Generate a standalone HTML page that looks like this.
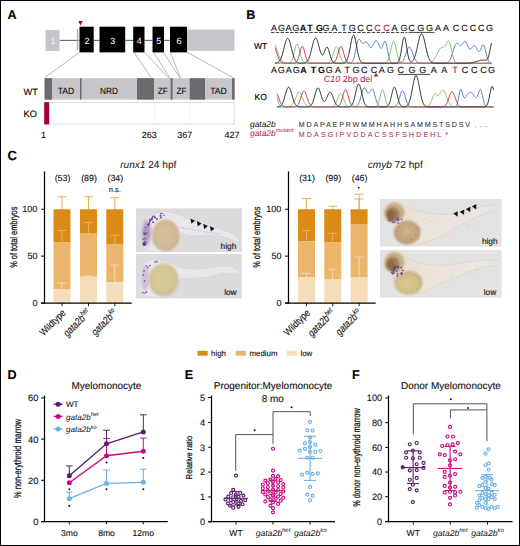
<!DOCTYPE html>
<html><head><meta charset="utf-8"><style>
html,body{margin:0;padding:0;background:#fff;width:520px;height:546px;overflow:hidden}
svg{display:block}
text{font-family:"Liberation Sans", sans-serif;text-rendering:geometricPrecision;paint-order:stroke}
</style></head><body>
<svg width="520" height="546" viewBox="0 0 520 546">
<rect x="0" y="0" width="520" height="546" fill="#fff"/>
<text x="7.6" y="19.2" font-size="12.6" text-anchor="start" font-weight="bold" font-style="normal" fill="#000"  stroke="#000" stroke-width="0.12">A</text>
<text x="246.3" y="19.2" font-size="12.6" text-anchor="start" font-weight="bold" font-style="normal" fill="#000"  stroke="#000" stroke-width="0.12">B</text>
<text x="7.5" y="160.2" font-size="13.2" text-anchor="start" font-weight="bold" font-style="normal" fill="#000"  stroke="#000" stroke-width="0.12">C</text>
<text x="7.6" y="379.3" font-size="12.6" text-anchor="start" font-weight="bold" font-style="normal" fill="#000"  stroke="#000" stroke-width="0.12">D</text>
<text x="184.8" y="379.3" font-size="12.6" text-anchor="start" font-weight="bold" font-style="normal" fill="#000"  stroke="#000" stroke-width="0.12">E</text>
<text x="352" y="379.3" font-size="12.6" text-anchor="start" font-weight="bold" font-style="normal" fill="#000"  stroke="#000" stroke-width="0.12">F</text>
<line x1="59.5" y1="40.4" x2="79.5" y2="40.4" stroke="#666" stroke-width="1.1" />
<line x1="93.7" y1="40.4" x2="99.5" y2="40.4" stroke="#666" stroke-width="1.1" />
<line x1="125.2" y1="40.4" x2="133.2" y2="40.4" stroke="#666" stroke-width="1.1" />
<line x1="144.5" y1="40.4" x2="152.5" y2="40.4" stroke="#666" stroke-width="1.1" />
<line x1="164" y1="40.4" x2="170" y2="40.4" stroke="#666" stroke-width="1.1" />
<rect x="45.5" y="30" width="14" height="21" fill="#c6c5cb" />
<text x="53" y="43.6" font-size="9" text-anchor="middle" font-weight="normal" font-style="normal" fill="#f4f4f6" stroke="none">1</text>
<rect x="76.9" y="28.8" width="1.4" height="21.4" fill="#aeadb6" />
<rect x="79.5" y="26.7" width="14.200000000000003" height="25.7" fill="#000" />
<text x="87.1" y="43.6" font-size="9" text-anchor="middle" font-weight="normal" font-style="normal" fill="#fff" stroke="none">2</text>
<rect x="99.5" y="26.7" width="25.700000000000003" height="25.7" fill="#000" />
<text x="112.85" y="43.6" font-size="9" text-anchor="middle" font-weight="normal" font-style="normal" fill="#fff" stroke="none">3</text>
<rect x="133.2" y="26.7" width="11.300000000000011" height="25.7" fill="#000" />
<text x="139.35" y="43.6" font-size="9" text-anchor="middle" font-weight="normal" font-style="normal" fill="#fff" stroke="none">4</text>
<rect x="152.5" y="26.7" width="11.5" height="25.7" fill="#000" />
<text x="158.75" y="43.6" font-size="9" text-anchor="middle" font-weight="normal" font-style="normal" fill="#fff" stroke="none">5</text>
<rect x="170" y="26.7" width="17" height="25.7" fill="#000" />
<text x="179.0" y="43.6" font-size="9" text-anchor="middle" font-weight="normal" font-style="normal" fill="#fff" stroke="none">6</text>
<rect x="187" y="29.6" width="47.5" height="21.2" fill="#c6c5cb" />
<path d="M78.3,21 L82.7,21 L80.5,25.6 Z" fill="#a8002c"/>
<line x1="79.5" y1="52.3" x2="44.6" y2="77.8" stroke="#888" stroke-width="0.6" />
<line x1="134" y1="52.3" x2="151.3" y2="77.8" stroke="#888" stroke-width="0.6" />
<line x1="144.4" y1="52.3" x2="168.7" y2="77.8" stroke="#888" stroke-width="0.6" />
<line x1="153.7" y1="52.3" x2="169.8" y2="77.8" stroke="#888" stroke-width="0.6" />
<line x1="163.5" y1="52.3" x2="179.8" y2="77.8" stroke="#888" stroke-width="0.6" />
<line x1="170.4" y1="52.3" x2="180.4" y2="77.8" stroke="#888" stroke-width="0.6" />
<line x1="187" y1="52.3" x2="233.5" y2="77.8" stroke="#888" stroke-width="0.6" />
<rect x="44.6" y="78.2" width="190" height="21.4" fill="#c6c5cb" />
<rect x="44.6" y="78.2" width="7.399999999999999" height="21.4" fill="#6b6b6d" />
<rect x="80" y="78.2" width="1.5" height="21.4" fill="#6b6b6d" />
<rect x="137" y="78.2" width="17" height="21.4" fill="#6b6b6d" />
<rect x="170.6" y="78.2" width="2.0" height="21.4" fill="#6b6b6d" />
<rect x="189.7" y="78.2" width="15.300000000000011" height="21.4" fill="#6b6b6d" />
<rect x="232" y="78.2" width="2.5999999999999943" height="21.4" fill="#6b6b6d" />
<text x="66" y="93.7" font-size="9" text-anchor="middle" font-weight="normal" font-style="normal" fill="#111" textLength="16.6" lengthAdjust="spacingAndGlyphs" stroke="#111" stroke-width="0.12">TAD</text>
<text x="109" y="93.7" font-size="9" text-anchor="middle" font-weight="normal" font-style="normal" fill="#111" textLength="17.9" lengthAdjust="spacingAndGlyphs" stroke="#111" stroke-width="0.12">NRD</text>
<text x="162.8" y="93.7" font-size="9" text-anchor="middle" font-weight="normal" font-style="normal" fill="#111" textLength="10.1" lengthAdjust="spacingAndGlyphs" stroke="#111" stroke-width="0.12">ZF</text>
<text x="181.6" y="93.7" font-size="9" text-anchor="middle" font-weight="normal" font-style="normal" fill="#111" textLength="10.1" lengthAdjust="spacingAndGlyphs" stroke="#111" stroke-width="0.12">ZF</text>
<text x="218.5" y="93.7" font-size="9" text-anchor="middle" font-weight="normal" font-style="normal" fill="#111" textLength="16.6" lengthAdjust="spacingAndGlyphs" stroke="#111" stroke-width="0.12">TAD</text>
<rect x="44.9" y="102.5" width="189.3" height="21.6" fill="#fff" stroke="#d4d4d6" stroke-width="0.8"/>
<line x1="154.5" y1="103" x2="154.5" y2="123.6" stroke="#eee" stroke-width="0.6" />
<line x1="189.7" y1="103" x2="189.7" y2="123.6" stroke="#eee" stroke-width="0.6" />
<rect x="44.2" y="102.2" width="5" height="22.2" fill="#a8002c" />
<text x="23.6" y="94.8" font-size="9.2" text-anchor="start" font-weight="normal" font-style="normal" fill="#000"  stroke="#000" stroke-width="0.12">WT</text>
<text x="23.6" y="117.3" font-size="9.2" text-anchor="start" font-weight="normal" font-style="normal" fill="#000"  stroke="#000" stroke-width="0.12">KO</text>
<text x="43.6" y="137.5" font-size="9.0" text-anchor="middle" font-weight="normal" font-style="normal" fill="#111"  stroke="#111" stroke-width="0.12">1</text>
<text x="149.3" y="137.5" font-size="9.0" text-anchor="middle" font-weight="normal" font-style="normal" fill="#111"  stroke="#111" stroke-width="0.12">263</text>
<text x="184.7" y="137.5" font-size="9.0" text-anchor="middle" font-weight="normal" font-style="normal" fill="#111"  stroke="#111" stroke-width="0.12">367</text>
<text x="232" y="137.5" font-size="9.0" text-anchor="middle" font-weight="normal" font-style="normal" fill="#111"  stroke="#111" stroke-width="0.12">427</text>
<text x="274" y="30.7" font-size="9" text-anchor="middle" font-weight="normal" font-style="normal" fill="#111"  stroke="#111" stroke-width="0.12">A</text>
<text x="281.6" y="30.7" font-size="9" text-anchor="middle" font-weight="normal" font-style="normal" fill="#111"  stroke="#111" stroke-width="0.12">G</text>
<text x="288.4" y="30.7" font-size="9" text-anchor="middle" font-weight="normal" font-style="normal" fill="#111"  stroke="#111" stroke-width="0.12">A</text>
<text x="295.7" y="30.7" font-size="9" text-anchor="middle" font-weight="normal" font-style="normal" fill="#111"  stroke="#111" stroke-width="0.12">G</text>
<text x="303" y="30.7" font-size="9" text-anchor="middle" font-weight="bold" font-style="normal" fill="#111"  stroke="#111" stroke-width="0.12">A</text>
<text x="310" y="30.7" font-size="9" text-anchor="middle" font-weight="bold" font-style="normal" fill="#111"  stroke="#111" stroke-width="0.12">T</text>
<text x="319.4" y="30.7" font-size="9" text-anchor="middle" font-weight="bold" font-style="normal" fill="#111"  stroke="#111" stroke-width="0.12">G</text>
<text x="326.1" y="30.7" font-size="9" text-anchor="middle" font-weight="normal" font-style="normal" fill="#111"  stroke="#111" stroke-width="0.12">G</text>
<text x="334.5" y="30.7" font-size="9" text-anchor="middle" font-weight="normal" font-style="normal" fill="#111"  stroke="#111" stroke-width="0.12">A</text>
<text x="343.9" y="30.7" font-size="9" text-anchor="middle" font-weight="normal" font-style="normal" fill="#111"  stroke="#111" stroke-width="0.12">T</text>
<text x="352.3" y="30.7" font-size="9" text-anchor="middle" font-weight="normal" font-style="normal" fill="#111"  stroke="#111" stroke-width="0.12">G</text>
<text x="360.5" y="30.7" font-size="9" text-anchor="middle" font-weight="normal" font-style="normal" fill="#111"  stroke="#111" stroke-width="0.12">C</text>
<text x="369.2" y="30.7" font-size="9" text-anchor="middle" font-weight="normal" font-style="normal" fill="#111"  stroke="#111" stroke-width="0.12">C</text>
<text x="377.4" y="30.7" font-size="9" text-anchor="middle" font-weight="normal" font-style="normal" fill="#b0173e"  stroke="#b0173e" stroke-width="0.12">C</text>
<text x="386.5" y="30.7" font-size="9" text-anchor="middle" font-weight="normal" font-style="normal" fill="#b0173e"  stroke="#b0173e" stroke-width="0.12">C</text>
<text x="394.4" y="30.7" font-size="9" text-anchor="middle" font-weight="normal" font-style="normal" fill="#111"  stroke="#111" stroke-width="0.12">A</text>
<text x="404" y="30.7" font-size="9" text-anchor="middle" font-weight="normal" font-style="normal" fill="#111"  stroke="#111" stroke-width="0.12">G</text>
<text x="411.5" y="30.7" font-size="9" text-anchor="middle" font-weight="normal" font-style="normal" fill="#111"  stroke="#111" stroke-width="0.12">C</text>
<text x="420.8" y="30.7" font-size="9" text-anchor="middle" font-weight="normal" font-style="normal" fill="#111"  stroke="#111" stroke-width="0.12">G</text>
<text x="429.5" y="30.7" font-size="9" text-anchor="middle" font-weight="normal" font-style="normal" fill="#111"  stroke="#111" stroke-width="0.12">G</text>
<text x="437.9" y="30.7" font-size="9" text-anchor="middle" font-weight="normal" font-style="normal" fill="#111"  stroke="#111" stroke-width="0.12">A</text>
<text x="446.1" y="30.7" font-size="9" text-anchor="middle" font-weight="normal" font-style="normal" fill="#111"  stroke="#111" stroke-width="0.12">A</text>
<text x="455.9" y="30.7" font-size="9" text-anchor="middle" font-weight="normal" font-style="normal" fill="#111"  stroke="#111" stroke-width="0.12">C</text>
<text x="464.5" y="30.7" font-size="9" text-anchor="middle" font-weight="normal" font-style="normal" fill="#111"  stroke="#111" stroke-width="0.12">C</text>
<text x="473" y="30.7" font-size="9" text-anchor="middle" font-weight="normal" font-style="normal" fill="#111"  stroke="#111" stroke-width="0.12">C</text>
<text x="481.3" y="30.7" font-size="9" text-anchor="middle" font-weight="normal" font-style="normal" fill="#111"  stroke="#111" stroke-width="0.12">C</text>
<text x="489.4" y="30.7" font-size="9" text-anchor="middle" font-weight="normal" font-style="normal" fill="#111"  stroke="#111" stroke-width="0.12">G</text>
<line x1="271" y1="32.5" x2="407.5" y2="32.5" stroke="#444" stroke-width="1" stroke-dasharray="3.4 1.4"/>
<line x1="408.6" y1="32.4" x2="434.5" y2="32.4" stroke="#444" stroke-width="1" />
<text x="274" y="72.6" font-size="9" text-anchor="middle" font-weight="normal" font-style="normal" fill="#111"  stroke="#111" stroke-width="0.12">A</text>
<text x="281.2" y="72.6" font-size="9" text-anchor="middle" font-weight="normal" font-style="normal" fill="#111"  stroke="#111" stroke-width="0.12">G</text>
<text x="288.7" y="72.6" font-size="9" text-anchor="middle" font-weight="normal" font-style="normal" fill="#111"  stroke="#111" stroke-width="0.12">A</text>
<text x="296.2" y="72.6" font-size="9" text-anchor="middle" font-weight="normal" font-style="normal" fill="#111"  stroke="#111" stroke-width="0.12">G</text>
<text x="303.4" y="72.6" font-size="9" text-anchor="middle" font-weight="bold" font-style="normal" fill="#111"  stroke="#111" stroke-width="0.12">A</text>
<text x="313.5" y="72.6" font-size="9" text-anchor="middle" font-weight="bold" font-style="normal" fill="#111"  stroke="#111" stroke-width="0.12">T</text>
<text x="321.5" y="72.6" font-size="9" text-anchor="middle" font-weight="bold" font-style="normal" fill="#111"  stroke="#111" stroke-width="0.12">G</text>
<text x="329.2" y="72.6" font-size="9" text-anchor="middle" font-weight="normal" font-style="normal" fill="#111"  stroke="#111" stroke-width="0.12">G</text>
<text x="338.1" y="72.6" font-size="9" text-anchor="middle" font-weight="normal" font-style="normal" fill="#111"  stroke="#111" stroke-width="0.12">A</text>
<text x="347.2" y="72.6" font-size="9" text-anchor="middle" font-weight="normal" font-style="normal" fill="#111"  stroke="#111" stroke-width="0.12">T</text>
<text x="355.9" y="72.6" font-size="9" text-anchor="middle" font-weight="normal" font-style="normal" fill="#111"  stroke="#111" stroke-width="0.12">G</text>
<text x="364.2" y="72.6" font-size="9" text-anchor="middle" font-weight="normal" font-style="normal" fill="#111"  stroke="#111" stroke-width="0.12">C</text>
<text x="373.9" y="72.6" font-size="9" text-anchor="middle" font-weight="normal" font-style="normal" fill="#111"  stroke="#111" stroke-width="0.12">C</text>
<text x="381.8" y="72.6" font-size="9" text-anchor="middle" font-weight="normal" font-style="normal" fill="#111"  stroke="#111" stroke-width="0.12">A</text>
<text x="390.5" y="72.6" font-size="9" text-anchor="middle" font-weight="normal" font-style="normal" fill="#111"  stroke="#111" stroke-width="0.12">G</text>
<text x="400.8" y="72.6" font-size="9" text-anchor="middle" font-weight="normal" font-style="normal" fill="#111"  stroke="#111" stroke-width="0.12">C</text>
<text x="412" y="72.6" font-size="9" text-anchor="middle" font-weight="normal" font-style="normal" fill="#111"  stroke="#111" stroke-width="0.12">G</text>
<text x="422.7" y="72.6" font-size="9" text-anchor="middle" font-weight="normal" font-style="normal" fill="#111"  stroke="#111" stroke-width="0.12">G</text>
<text x="433.7" y="72.6" font-size="9" text-anchor="middle" font-weight="normal" font-style="normal" fill="#111"  stroke="#111" stroke-width="0.12">A</text>
<text x="444.3" y="72.6" font-size="9" text-anchor="middle" font-weight="normal" font-style="normal" fill="#111"  stroke="#111" stroke-width="0.12">A</text>
<text x="455" y="72.6" font-size="9" text-anchor="middle" font-weight="normal" font-style="normal" fill="#b0173e"  stroke="#b0173e" stroke-width="0.12">T</text>
<text x="465.1" y="72.6" font-size="9" text-anchor="middle" font-weight="normal" font-style="normal" fill="#111"  stroke="#111" stroke-width="0.12">C</text>
<text x="474.3" y="72.6" font-size="9" text-anchor="middle" font-weight="normal" font-style="normal" fill="#111"  stroke="#111" stroke-width="0.12">C</text>
<text x="483.5" y="72.6" font-size="9" text-anchor="middle" font-weight="normal" font-style="normal" fill="#111"  stroke="#111" stroke-width="0.12">C</text>
<text x="491.6" y="72.6" font-size="9" text-anchor="middle" font-weight="normal" font-style="normal" fill="#111"  stroke="#111" stroke-width="0.12">G</text>
<line x1="397.9" y1="74.4" x2="430.1" y2="74.4" stroke="#444" stroke-width="1" />
<path d="M376,73.1 L378.3,76.6 L373.7,76.6 Z" fill="#b0173e"/>
<text x="323.7" y="82.2" font-size="9" fill="#b0173e"><tspan font-style="italic">C10</tspan> 2bp del</text>
<text x="254" y="49.2" font-size="8.6" text-anchor="start" font-weight="normal" font-style="normal" fill="#000"  stroke="#000" stroke-width="0.12">WT</text>
<text x="254.6" y="100" font-size="8.6" text-anchor="start" font-weight="normal" font-style="normal" fill="#000"  stroke="#000" stroke-width="0.12">KO</text>
<text x="250" y="127.3" font-size="8.4" font-style="italic" fill="#111">gata2b</text>
<text x="250" y="135.6" font-size="8.4" font-style="italic" fill="#b0173e">gata2b<tspan font-size="5.8" dy="-3.6">mutant</tspan></text>
<text x="298.8" y="127.1" font-size="7.2" fill="#222" textLength="171.2" lengthAdjust="spacing">MDAPAEPRWMMHAHHSAMMSTSDSV</text>
<text x="474.5" y="127.1" font-size="7.2" fill="#222" letter-spacing="3.3">...</text>
<text x="298.8" y="136.6" font-size="7.2" fill="#b0173e" textLength="142.7" lengthAdjust="spacing">MDASGIPVDDACSSFSHDEHL</text>
<text x="445.3" y="136.6" font-size="7.2" fill="#b0173e">*</text>
<rect x="53.5" y="209.25" width="17" height="32.8125" fill="#dc8a18" />
<rect x="53.5" y="242.0625" width="17" height="47.4375" fill="#ebb56c" />
<rect x="53.5" y="289.5" width="17" height="13.5" fill="#f6ddb9" />
<line x1="62" y1="209.25" x2="62" y2="196.78125" stroke="#e6a44c" stroke-width="0.9" />
<line x1="57.5" y1="196.78125" x2="66.5" y2="196.78125" stroke="#e6a44c" stroke-width="0.9" />
<line x1="62" y1="242.0625" x2="62" y2="230.53125" stroke="#ebb56c" stroke-width="0.9" />
<line x1="57.5" y1="230.53125" x2="66.5" y2="230.53125" stroke="#ebb56c" stroke-width="0.9" />
<line x1="62" y1="289.5" x2="62" y2="283.03125" stroke="#f6ddb9" stroke-width="0.9" />
<line x1="57.5" y1="283.03125" x2="66.5" y2="283.03125" stroke="#f6ddb9" stroke-width="0.9" />
<rect x="80.0" y="209.25" width="17" height="24.375" fill="#dc8a18" />
<rect x="80.0" y="233.625" width="17" height="43.125" fill="#ebb56c" />
<rect x="80.0" y="276.75" width="17" height="26.25" fill="#f6ddb9" />
<line x1="88.5" y1="209.25" x2="88.5" y2="196.78125" stroke="#e6a44c" stroke-width="0.9" />
<line x1="84.0" y1="196.78125" x2="93.0" y2="196.78125" stroke="#e6a44c" stroke-width="0.9" />
<line x1="88.5" y1="233.625" x2="88.5" y2="222.46875" stroke="#ebb56c" stroke-width="0.9" />
<line x1="84.0" y1="222.46875" x2="93.0" y2="222.46875" stroke="#ebb56c" stroke-width="0.9" />
<line x1="88.5" y1="276.75" x2="88.5" y2="275.8125" stroke="#f6ddb9" stroke-width="0.9" />
<line x1="84.0" y1="275.8125" x2="93.0" y2="275.8125" stroke="#f6ddb9" stroke-width="0.9" />
<rect x="106.3" y="209.25" width="17" height="34.6875" fill="#dc8a18" />
<rect x="106.3" y="243.9375" width="17" height="38.4375" fill="#ebb56c" />
<rect x="106.3" y="282.375" width="17" height="20.625" fill="#f6ddb9" />
<line x1="114.8" y1="209.25" x2="114.8" y2="197.71875" stroke="#e6a44c" stroke-width="0.9" />
<line x1="110.3" y1="197.71875" x2="119.3" y2="197.71875" stroke="#e6a44c" stroke-width="0.9" />
<line x1="114.8" y1="243.9375" x2="114.8" y2="235.21875" stroke="#ebb56c" stroke-width="0.9" />
<line x1="110.3" y1="235.21875" x2="119.3" y2="235.21875" stroke="#ebb56c" stroke-width="0.9" />
<line x1="114.8" y1="282.375" x2="114.8" y2="265.03125" stroke="#f6ddb9" stroke-width="0.9" />
<line x1="110.3" y1="265.03125" x2="119.3" y2="265.03125" stroke="#f6ddb9" stroke-width="0.9" />
<line x1="44.5" y1="171.5" x2="44.5" y2="303.7" stroke="#000" stroke-width="1.25" />
<line x1="41.1" y1="303.1" x2="131.7" y2="303.1" stroke="#000" stroke-width="1.3" />
<line x1="41.1" y1="303.0" x2="44.5" y2="303.0" stroke="#000" stroke-width="1" />
<text x="37.4" y="306.2" font-size="9.0" text-anchor="end" font-weight="normal" font-style="normal" fill="#111"  stroke="#111" stroke-width="0.12">0</text>
<line x1="41.1" y1="256.125" x2="44.5" y2="256.125" stroke="#000" stroke-width="1" />
<text x="37.4" y="259.325" font-size="9.0" text-anchor="end" font-weight="normal" font-style="normal" fill="#111"  stroke="#111" stroke-width="0.12">50</text>
<line x1="41.1" y1="209.25" x2="44.5" y2="209.25" stroke="#000" stroke-width="1" />
<text x="37.4" y="212.45" font-size="9.0" text-anchor="end" font-weight="normal" font-style="normal" fill="#111"  stroke="#111" stroke-width="0.12">100</text>
<line x1="62" y1="303" x2="62" y2="306.2" stroke="#000" stroke-width="0.9" />
<line x1="88.5" y1="303" x2="88.5" y2="306.2" stroke="#000" stroke-width="0.9" />
<line x1="114.8" y1="303" x2="114.8" y2="306.2" stroke="#000" stroke-width="0.9" />
<text x="62.5" y="180.5" font-size="8.8" text-anchor="middle" font-weight="normal" font-style="normal" fill="#111"  stroke="#111" stroke-width="0.12">(53)</text>
<text x="89.0" y="180.5" font-size="8.8" text-anchor="middle" font-weight="normal" font-style="normal" fill="#111"  stroke="#111" stroke-width="0.12">(89)</text>
<text x="115.3" y="180.5" font-size="8.8" text-anchor="middle" font-weight="normal" font-style="normal" fill="#111"  stroke="#111" stroke-width="0.12">(34)</text>
<text x="114.8" y="192.2" font-size="7.5" text-anchor="middle" font-weight="normal" font-style="normal" fill="#111"  stroke="#111" stroke-width="0.12">n.s.</text>
<rect x="298.0" y="209.25" width="17" height="31.96875" fill="#dc8a18" />
<rect x="298.0" y="241.21875" width="17" height="35.8125" fill="#ebb56c" />
<rect x="298.0" y="277.03125" width="17" height="25.96875" fill="#f6ddb9" />
<line x1="306.5" y1="209.25" x2="306.5" y2="198.46875" stroke="#e6a44c" stroke-width="0.9" />
<line x1="302.0" y1="198.46875" x2="311.0" y2="198.46875" stroke="#e6a44c" stroke-width="0.9" />
<line x1="306.5" y1="241.21875" x2="306.5" y2="230.53125" stroke="#ebb56c" stroke-width="0.9" />
<line x1="302.0" y1="230.53125" x2="311.0" y2="230.53125" stroke="#ebb56c" stroke-width="0.9" />
<line x1="306.5" y1="277.03125" x2="306.5" y2="273.28125" stroke="#f6ddb9" stroke-width="0.9" />
<line x1="302.0" y1="273.28125" x2="311.0" y2="273.28125" stroke="#f6ddb9" stroke-width="0.9" />
<rect x="324.25" y="209.25" width="17" height="33.28125" fill="#dc8a18" />
<rect x="324.25" y="242.53125" width="17" height="37.03125" fill="#ebb56c" />
<rect x="324.25" y="279.5625" width="17" height="23.4375" fill="#f6ddb9" />
<line x1="332.75" y1="209.25" x2="332.75" y2="206.25" stroke="#e6a44c" stroke-width="0.9" />
<line x1="328.25" y1="206.25" x2="337.25" y2="206.25" stroke="#e6a44c" stroke-width="0.9" />
<line x1="332.75" y1="242.53125" x2="332.75" y2="233.25" stroke="#ebb56c" stroke-width="0.9" />
<line x1="328.25" y1="233.25" x2="337.25" y2="233.25" stroke="#ebb56c" stroke-width="0.9" />
<line x1="332.75" y1="279.5625" x2="332.75" y2="269.25" stroke="#f6ddb9" stroke-width="0.9" />
<line x1="328.25" y1="269.25" x2="337.25" y2="269.25" stroke="#f6ddb9" stroke-width="0.9" />
<rect x="350.6" y="209.25" width="17" height="14.71875" fill="#dc8a18" />
<rect x="350.6" y="223.96875" width="17" height="53.53125" fill="#ebb56c" />
<rect x="350.6" y="277.5" width="17" height="25.5" fill="#f6ddb9" />
<line x1="359.1" y1="209.25" x2="359.1" y2="194.25" stroke="#e6a44c" stroke-width="0.9" />
<line x1="354.6" y1="194.25" x2="363.6" y2="194.25" stroke="#e6a44c" stroke-width="0.9" />
<line x1="359.1" y1="209.25" x2="359.1" y2="198.9375" stroke="#e6a44c" stroke-width="0.9" />
<line x1="354.6" y1="198.9375" x2="363.6" y2="198.9375" stroke="#e6a44c" stroke-width="0.9" />
<line x1="359.1" y1="277.5" x2="359.1" y2="257.0625" stroke="#f6ddb9" stroke-width="0.9" />
<line x1="354.6" y1="257.0625" x2="363.6" y2="257.0625" stroke="#f6ddb9" stroke-width="0.9" />
<line x1="288.5" y1="171.5" x2="288.5" y2="303.7" stroke="#000" stroke-width="1.25" />
<line x1="285.1" y1="303.1" x2="375.7" y2="303.1" stroke="#000" stroke-width="1.3" />
<line x1="285.1" y1="303.0" x2="288.5" y2="303.0" stroke="#000" stroke-width="1" />
<text x="281.4" y="306.2" font-size="9.0" text-anchor="end" font-weight="normal" font-style="normal" fill="#111"  stroke="#111" stroke-width="0.12">0</text>
<line x1="285.1" y1="256.125" x2="288.5" y2="256.125" stroke="#000" stroke-width="1" />
<text x="281.4" y="259.325" font-size="9.0" text-anchor="end" font-weight="normal" font-style="normal" fill="#111"  stroke="#111" stroke-width="0.12">50</text>
<line x1="285.1" y1="209.25" x2="288.5" y2="209.25" stroke="#000" stroke-width="1" />
<text x="281.4" y="212.45" font-size="9.0" text-anchor="end" font-weight="normal" font-style="normal" fill="#111"  stroke="#111" stroke-width="0.12">100</text>
<line x1="306.5" y1="303" x2="306.5" y2="306.2" stroke="#000" stroke-width="0.9" />
<line x1="332.75" y1="303" x2="332.75" y2="306.2" stroke="#000" stroke-width="0.9" />
<line x1="359.1" y1="303" x2="359.1" y2="306.2" stroke="#000" stroke-width="0.9" />
<text x="307.0" y="180.5" font-size="8.8" text-anchor="middle" font-weight="normal" font-style="normal" fill="#111"  stroke="#111" stroke-width="0.12">(31)</text>
<text x="333.25" y="180.5" font-size="8.8" text-anchor="middle" font-weight="normal" font-style="normal" fill="#111"  stroke="#111" stroke-width="0.12">(99)</text>
<text x="359.6" y="180.5" font-size="8.8" text-anchor="middle" font-weight="normal" font-style="normal" fill="#111"  stroke="#111" stroke-width="0.12">(46)</text>
<circle cx="358.8" cy="187.6" r="0.9" fill="#111"/>
<text transform="translate(16.5,237.2) rotate(-90) scale(0.755,1)" x="0" y="0" font-size="9.8" text-anchor="middle" fill="#111" stroke="#111" stroke-width="0.25">% of total embryos</text>
<text transform="translate(260.2,237.2) rotate(-90) scale(0.755,1)" x="0" y="0" font-size="9.8" text-anchor="middle" fill="#111" stroke="#111" stroke-width="0.25">% of total embryos</text>
<text x="120.2" y="168.1" font-size="10.1" fill="#111"><tspan font-style="italic">runx1</tspan> 24 hpf</text>
<text x="367.7" y="168.1" font-size="10.1" fill="#111"><tspan font-style="italic">cmyb</tspan> 72 hpf</text>
<text transform="translate(66.3,313.4) rotate(-45) scale(0.86,1)" x="0" y="0" text-anchor="end" font-size="9.8" fill="#111" stroke="#111" stroke-width="0.12"><tspan font-style="normal" font-size="9.8" dy="0">Wildtype</tspan></text>
<text transform="translate(91.2,313.6) rotate(-45) scale(0.8,1)" x="0" y="0" text-anchor="end" font-size="9.8" fill="#111" stroke="#111" stroke-width="0.12"><tspan font-style="italic" font-size="10.5" dy="0">gata2b</tspan><tspan font-style="italic" font-size="7.0" dy="-4.2">het</tspan></text>
<text transform="translate(117.8,313.6) rotate(-45) scale(0.8,1)" x="0" y="0" text-anchor="end" font-size="9.8" fill="#111" stroke="#111" stroke-width="0.12"><tspan font-style="italic" font-size="10.5" dy="0">gata2b</tspan><tspan font-style="italic" font-size="7.0" dy="-4.2">ko</tspan></text>
<text transform="translate(310.7,313.4) rotate(-45) scale(0.86,1)" x="0" y="0" text-anchor="end" font-size="9.8" fill="#111" stroke="#111" stroke-width="0.12"><tspan font-style="normal" font-size="9.8" dy="0">Wildtype</tspan></text>
<text transform="translate(335.6,313.6) rotate(-45) scale(0.8,1)" x="0" y="0" text-anchor="end" font-size="9.8" fill="#111" stroke="#111" stroke-width="0.12"><tspan font-style="italic" font-size="10.5" dy="0">gata2b</tspan><tspan font-style="italic" font-size="7.0" dy="-4.2">het</tspan></text>
<text transform="translate(362.2,313.6) rotate(-45) scale(0.8,1)" x="0" y="0" text-anchor="end" font-size="9.8" fill="#111" stroke="#111" stroke-width="0.12"><tspan font-style="italic" font-size="10.5" dy="0">gata2b</tspan><tspan font-style="italic" font-size="7.0" dy="-4.2">ko</tspan></text>
<rect x="197.5" y="350.8" width="10.2" height="4.9" fill="#dc8a18" />
<text x="211" y="356.1" font-size="7.9" text-anchor="start" font-weight="normal" font-style="normal" fill="#111"  stroke="#111" stroke-width="0.12">high</text>
<rect x="235.7" y="350.8" width="10.2" height="4.9" fill="#ebb56c" />
<text x="249.5" y="356.1" font-size="7.9" text-anchor="start" font-weight="normal" font-style="normal" fill="#111"  stroke="#111" stroke-width="0.12">medium</text>
<rect x="286.9" y="350.8" width="10.2" height="4.9" fill="#f6ddb9" />
<text x="300.4" y="356.1" font-size="7.9" text-anchor="start" font-weight="normal" font-style="normal" fill="#111"  stroke="#111" stroke-width="0.12">low</text>
<line x1="44.5" y1="395.5" x2="44.5" y2="522.2" stroke="#000" stroke-width="1.25" />
<line x1="41" y1="521.6" x2="167.7" y2="521.6" stroke="#000" stroke-width="1.3" />
<line x1="41" y1="521.5" x2="44.5" y2="521.5" stroke="#000" stroke-width="1" />
<text x="38.4" y="524.9" font-size="9.4" text-anchor="end" font-weight="normal" font-style="normal" fill="#111"  stroke="#111" stroke-width="0.12">0</text>
<line x1="41" y1="480.3" x2="44.5" y2="480.3" stroke="#000" stroke-width="1" />
<text x="38.4" y="483.7" font-size="9.4" text-anchor="end" font-weight="normal" font-style="normal" fill="#111"  stroke="#111" stroke-width="0.12">20</text>
<line x1="41" y1="439.1" x2="44.5" y2="439.1" stroke="#000" stroke-width="1" />
<text x="38.4" y="442.5" font-size="9.4" text-anchor="end" font-weight="normal" font-style="normal" fill="#111"  stroke="#111" stroke-width="0.12">40</text>
<line x1="41" y1="397.9" x2="44.5" y2="397.9" stroke="#000" stroke-width="1" />
<text x="38.4" y="401.29999999999995" font-size="9.4" text-anchor="end" font-weight="normal" font-style="normal" fill="#111"  stroke="#111" stroke-width="0.12">60</text>
<line x1="69.3" y1="521.3" x2="69.3" y2="524.4" stroke="#000" stroke-width="0.9" />
<text x="69.3" y="535.8" font-size="8.6" text-anchor="middle" font-weight="normal" font-style="normal" fill="#111"  stroke="#111" stroke-width="0.12">3mo</text>
<line x1="106.5" y1="521.3" x2="106.5" y2="524.4" stroke="#000" stroke-width="0.9" />
<text x="106.5" y="535.8" font-size="8.6" text-anchor="middle" font-weight="normal" font-style="normal" fill="#111"  stroke="#111" stroke-width="0.12">8mo</text>
<line x1="143.3" y1="521.3" x2="143.3" y2="524.4" stroke="#000" stroke-width="0.9" />
<text x="143.3" y="535.8" font-size="8.6" text-anchor="middle" font-weight="normal" font-style="normal" fill="#111"  stroke="#111" stroke-width="0.12">12mo</text>
<text transform="translate(21.2,458.4) rotate(-90) scale(0.727,1)" x="0" y="0" font-size="10.2" text-anchor="middle" fill="#111" stroke="#111" stroke-width="0.25">% non-erythroid marrow</text>
<text x="106.4" y="388.5" font-size="9.97" text-anchor="middle" font-weight="normal" font-style="normal" fill="#111"  stroke="#111" stroke-width="0.12">Myelomonocyte</text>
<line x1="69.3" y1="475.76800000000003" x2="69.3" y2="465.88" stroke="#561f6e" stroke-width="1" />
<line x1="66.0" y1="465.88" x2="72.6" y2="465.88" stroke="#561f6e" stroke-width="1" />
<line x1="106.5" y1="443.83799999999997" x2="106.5" y2="430.242" stroke="#561f6e" stroke-width="1" />
<line x1="103.2" y1="430.242" x2="109.8" y2="430.242" stroke="#561f6e" stroke-width="1" />
<line x1="143.3" y1="431.89" x2="143.3" y2="414.79200000000003" stroke="#561f6e" stroke-width="1" />
<line x1="140.0" y1="414.79200000000003" x2="146.60000000000002" y2="414.79200000000003" stroke="#561f6e" stroke-width="1" />
<line x1="106.5" y1="455.786" x2="106.5" y2="438.48199999999997" stroke="#c80c80" stroke-width="1" />
<line x1="103.2" y1="438.48199999999997" x2="109.8" y2="438.48199999999997" stroke="#c80c80" stroke-width="1" />
<line x1="143.3" y1="451.254" x2="143.3" y2="438.07" stroke="#c80c80" stroke-width="1" />
<line x1="140.0" y1="438.07" x2="146.60000000000002" y2="438.07" stroke="#c80c80" stroke-width="1" />
<line x1="69.3" y1="498.634" x2="69.3" y2="492.042" stroke="#6cb0e6" stroke-width="1" />
<line x1="66.0" y1="492.042" x2="72.6" y2="492.042" stroke="#6cb0e6" stroke-width="1" />
<line x1="106.5" y1="483.39" x2="106.5" y2="470.0" stroke="#6cb0e6" stroke-width="1" />
<line x1="103.2" y1="470.0" x2="109.8" y2="470.0" stroke="#6cb0e6" stroke-width="1" />
<line x1="143.3" y1="482.36" x2="143.3" y2="469.176" stroke="#6cb0e6" stroke-width="1" />
<line x1="140.0" y1="469.176" x2="146.60000000000002" y2="469.176" stroke="#6cb0e6" stroke-width="1" />
<polyline points="69.3,475.77 106.5,443.84 143.3,431.89" fill="none" stroke="#561f6e" stroke-width="1.4"/>
<circle cx="69.3" cy="475.77" r="2.5" fill="#561f6e"/>
<circle cx="106.5" cy="443.84" r="2.5" fill="#561f6e"/>
<circle cx="143.3" cy="431.89" r="2.5" fill="#561f6e"/>
<polyline points="69.3,482.77 106.5,455.79 143.3,451.25" fill="none" stroke="#c80c80" stroke-width="1.4"/>
<circle cx="69.3" cy="482.77" r="2.5" fill="#c80c80"/>
<circle cx="106.5" cy="455.79" r="2.5" fill="#c80c80"/>
<circle cx="143.3" cy="451.25" r="2.5" fill="#c80c80"/>
<polyline points="69.3,498.63 106.5,483.39 143.3,482.36" fill="none" stroke="#6cb0e6" stroke-width="1.4"/>
<circle cx="69.3" cy="498.63" r="2.5" fill="#6cb0e6"/>
<circle cx="106.5" cy="483.39" r="2.5" fill="#6cb0e6"/>
<circle cx="143.3" cy="482.36" r="2.5" fill="#6cb0e6"/>
<circle cx="106.5" cy="462.5" r="1.0" fill="#111"/>
<circle cx="143.3" cy="458" r="1.0" fill="#111"/>
<circle cx="69.3" cy="489.2" r="1.0" fill="#111"/>
<circle cx="69.3" cy="506" r="1.0" fill="#111"/>
<circle cx="106.5" cy="489.2" r="1.0" fill="#111"/>
<circle cx="143.3" cy="489.2" r="1.0" fill="#111"/>
<line x1="53.8" y1="404.25" x2="62.5" y2="404.25" stroke="#561f6e" stroke-width="1.4" />
<circle cx="58.2" cy="404.25" r="2.5" fill="#561f6e"/>
<line x1="53.8" y1="416.4" x2="62.5" y2="416.4" stroke="#c80c80" stroke-width="1.4" />
<circle cx="58.2" cy="416.4" r="2.5" fill="#c80c80"/>
<line x1="53.8" y1="429" x2="62.5" y2="429" stroke="#6cb0e6" stroke-width="1.4" />
<circle cx="58.2" cy="429" r="2.5" fill="#6cb0e6"/>
<text x="65.9" y="407.4" font-size="8.1" text-anchor="start" font-weight="normal" font-style="normal" fill="#111"  stroke="#111" stroke-width="0.12">WT</text>
<text x="65.9" y="419.6" font-size="8.1" font-style="italic" fill="#111">gata2b<tspan font-size="5.6" dy="-3.4">het</tspan></text>
<text x="65.9" y="432.2" font-size="8.1" font-style="italic" fill="#111">gata2b<tspan font-size="5.6" dy="-3.4">ko</tspan></text>
<line x1="211.5" y1="395.5" x2="211.5" y2="522.2" stroke="#000" stroke-width="1.25" />
<line x1="208.2" y1="521.6" x2="335" y2="521.6" stroke="#000" stroke-width="1.3" />
<line x1="208.2" y1="521.8" x2="211.5" y2="521.8" stroke="#000" stroke-width="1" />
<text x="205.2" y="525.0999999999999" font-size="9.2" text-anchor="end" font-weight="normal" font-style="normal" fill="#111"  stroke="#111" stroke-width="0.12">0</text>
<line x1="208.2" y1="496.94999999999993" x2="211.5" y2="496.94999999999993" stroke="#000" stroke-width="1" />
<text x="205.2" y="500.24999999999994" font-size="9.2" text-anchor="end" font-weight="normal" font-style="normal" fill="#111"  stroke="#111" stroke-width="0.12">1</text>
<line x1="208.2" y1="472.09999999999997" x2="211.5" y2="472.09999999999997" stroke="#000" stroke-width="1" />
<text x="205.2" y="475.4" font-size="9.2" text-anchor="end" font-weight="normal" font-style="normal" fill="#111"  stroke="#111" stroke-width="0.12">2</text>
<line x1="208.2" y1="447.24999999999994" x2="211.5" y2="447.24999999999994" stroke="#000" stroke-width="1" />
<text x="205.2" y="450.54999999999995" font-size="9.2" text-anchor="end" font-weight="normal" font-style="normal" fill="#111"  stroke="#111" stroke-width="0.12">3</text>
<line x1="208.2" y1="422.4" x2="211.5" y2="422.4" stroke="#000" stroke-width="1" />
<text x="205.2" y="425.7" font-size="9.2" text-anchor="end" font-weight="normal" font-style="normal" fill="#111"  stroke="#111" stroke-width="0.12">4</text>
<line x1="208.2" y1="397.54999999999995" x2="211.5" y2="397.54999999999995" stroke="#000" stroke-width="1" />
<text x="205.2" y="400.84999999999997" font-size="9.2" text-anchor="end" font-weight="normal" font-style="normal" fill="#111"  stroke="#111" stroke-width="0.12">5</text>
<line x1="236" y1="521.8" x2="236" y2="524.6" stroke="#000" stroke-width="0.9" />
<line x1="273" y1="521.8" x2="273" y2="524.6" stroke="#000" stroke-width="0.9" />
<line x1="310" y1="521.8" x2="310" y2="524.6" stroke="#000" stroke-width="0.9" />
<text transform="translate(191.7,457.5) rotate(-90) scale(0.885,1)" x="0" y="0" font-size="8.4" text-anchor="middle" fill="#111" stroke="#111" stroke-width="0.25">Relative ratio</text>
<text x="273.1" y="388.5" font-size="9.97" text-anchor="middle" font-weight="normal" font-style="normal" fill="#111"  stroke="#111" stroke-width="0.12">Progenitor:Myelomonocyte</text>
<text x="272.8" y="401.6" font-size="9.97" text-anchor="middle" font-weight="normal" font-style="normal" fill="#111"  stroke="#111" stroke-width="0.12">8 mo</text>
<text x="236" y="535.8" font-size="8.6" text-anchor="middle" font-weight="normal" font-style="normal" fill="#111"  stroke="#111" stroke-width="0.12">WT</text>
<text x="273" y="535.8" font-size="8.6" font-style="italic" text-anchor="middle" fill="#111">gata2b<tspan font-size="6" dy="-3.4">het</tspan></text>
<text x="310.2" y="535.8" font-size="8.6" font-style="italic" text-anchor="middle" fill="#111">gata2b<tspan font-size="6" dy="-3.4">ko</tspan></text>
<polyline points="235.7,470.8 235.7,434.6 273,434.6 273,443.8" fill="none" stroke="#555" stroke-width="1"/>
<polyline points="273,434.6 273,411.7 310.2,411.7 310.2,415.9" fill="none" stroke="#555" stroke-width="1"/>
<circle cx="254.6" cy="430.3" r="1.0" fill="#111"/>
<circle cx="291.6" cy="407.2" r="1.0" fill="#111"/>
<line x1="224" y1="498.3" x2="248" y2="498.3" stroke="#561f6e" stroke-width="1.0" />
<line x1="236" y1="491.4" x2="236" y2="505.1" stroke="#561f6e" stroke-width="1.0" />
<line x1="230.2" y1="491.4" x2="241.8" y2="491.4" stroke="#561f6e" stroke-width="1.0" />
<line x1="230.2" y1="505.1" x2="241.8" y2="505.1" stroke="#561f6e" stroke-width="1.0" />
<circle cx="233.20" cy="489.80" r="1.5" fill="none" stroke="#561f6e" stroke-width="1.15"/>
<circle cx="231.10" cy="493.20" r="1.5" fill="none" stroke="#561f6e" stroke-width="1.15"/>
<circle cx="235.90" cy="494.50" r="1.5" fill="none" stroke="#561f6e" stroke-width="1.15"/>
<circle cx="240.20" cy="493.00" r="1.5" fill="none" stroke="#561f6e" stroke-width="1.15"/>
<circle cx="243.40" cy="495.60" r="1.5" fill="none" stroke="#561f6e" stroke-width="1.15"/>
<circle cx="228.30" cy="496.60" r="1.5" fill="none" stroke="#561f6e" stroke-width="1.15"/>
<circle cx="233.20" cy="497.20" r="1.5" fill="none" stroke="#561f6e" stroke-width="1.15"/>
<circle cx="238.50" cy="496.80" r="1.5" fill="none" stroke="#561f6e" stroke-width="1.15"/>
<circle cx="225.50" cy="499.40" r="1.5" fill="none" stroke="#561f6e" stroke-width="1.15"/>
<circle cx="230.80" cy="500.00" r="1.5" fill="none" stroke="#561f6e" stroke-width="1.15"/>
<circle cx="236.50" cy="499.60" r="1.5" fill="none" stroke="#561f6e" stroke-width="1.15"/>
<circle cx="241.00" cy="500.80" r="1.5" fill="none" stroke="#561f6e" stroke-width="1.15"/>
<circle cx="245.20" cy="500.20" r="1.5" fill="none" stroke="#561f6e" stroke-width="1.15"/>
<circle cx="228.00" cy="503.30" r="1.5" fill="none" stroke="#561f6e" stroke-width="1.15"/>
<circle cx="233.20" cy="502.00" r="1.5" fill="none" stroke="#561f6e" stroke-width="1.15"/>
<circle cx="238.50" cy="503.40" r="1.5" fill="none" stroke="#561f6e" stroke-width="1.15"/>
<circle cx="242.60" cy="504.20" r="1.5" fill="none" stroke="#561f6e" stroke-width="1.15"/>
<circle cx="238.50" cy="506.80" r="1.5" fill="none" stroke="#561f6e" stroke-width="1.15"/>
<circle cx="233.20" cy="507.70" r="1.5" fill="none" stroke="#561f6e" stroke-width="1.15"/>
<circle cx="230.00" cy="505.60" r="1.5" fill="none" stroke="#561f6e" stroke-width="1.15"/>
<circle cx="236.00" cy="475.58" r="1.5" fill="none" stroke="#561f6e" stroke-width="1.15"/>
<line x1="260.8" y1="490.73749999999995" x2="285.2" y2="490.73749999999995" stroke="#c80c80" stroke-width="1.0" />
<line x1="273" y1="480.05199999999996" x2="273" y2="501.42299999999994" stroke="#c80c80" stroke-width="1.0" />
<line x1="268.8" y1="480.05199999999996" x2="277.2" y2="480.05199999999996" stroke="#c80c80" stroke-width="1.0" />
<line x1="268.8" y1="501.42299999999994" x2="277.2" y2="501.42299999999994" stroke="#c80c80" stroke-width="1.0" />
<circle cx="273.00" cy="470.61" r="1.5" fill="none" stroke="#c80c80" stroke-width="1.15"/>
<circle cx="273.00" cy="475.83" r="1.5" fill="none" stroke="#c80c80" stroke-width="1.15"/>
<circle cx="278.10" cy="476.32" r="1.5" fill="none" stroke="#c80c80" stroke-width="1.15"/>
<circle cx="275.55" cy="479.06" r="1.5" fill="none" stroke="#c80c80" stroke-width="1.15"/>
<circle cx="270.45" cy="479.55" r="1.5" fill="none" stroke="#c80c80" stroke-width="1.15"/>
<circle cx="280.65" cy="480.05" r="1.5" fill="none" stroke="#c80c80" stroke-width="1.15"/>
<circle cx="265.35" cy="480.55" r="1.5" fill="none" stroke="#c80c80" stroke-width="1.15"/>
<circle cx="273.00" cy="482.04" r="1.5" fill="none" stroke="#c80c80" stroke-width="1.15"/>
<circle cx="278.10" cy="482.54" r="1.5" fill="none" stroke="#c80c80" stroke-width="1.15"/>
<circle cx="267.90" cy="483.28" r="1.5" fill="none" stroke="#c80c80" stroke-width="1.15"/>
<circle cx="283.20" cy="484.03" r="1.5" fill="none" stroke="#c80c80" stroke-width="1.15"/>
<circle cx="262.80" cy="484.52" r="1.5" fill="none" stroke="#c80c80" stroke-width="1.15"/>
<circle cx="273.00" cy="485.77" r="1.5" fill="none" stroke="#c80c80" stroke-width="1.15"/>
<circle cx="278.10" cy="486.26" r="1.5" fill="none" stroke="#c80c80" stroke-width="1.15"/>
<circle cx="267.90" cy="487.01" r="1.5" fill="none" stroke="#c80c80" stroke-width="1.15"/>
<circle cx="283.20" cy="487.51" r="1.5" fill="none" stroke="#c80c80" stroke-width="1.15"/>
<circle cx="262.80" cy="488.25" r="1.5" fill="none" stroke="#c80c80" stroke-width="1.15"/>
<circle cx="273.00" cy="489.49" r="1.5" fill="none" stroke="#c80c80" stroke-width="1.15"/>
<circle cx="278.10" cy="489.99" r="1.5" fill="none" stroke="#c80c80" stroke-width="1.15"/>
<circle cx="267.90" cy="490.74" r="1.5" fill="none" stroke="#c80c80" stroke-width="1.15"/>
<circle cx="283.20" cy="491.48" r="1.5" fill="none" stroke="#c80c80" stroke-width="1.15"/>
<circle cx="262.80" cy="491.98" r="1.5" fill="none" stroke="#c80c80" stroke-width="1.15"/>
<circle cx="275.55" cy="492.48" r="1.5" fill="none" stroke="#c80c80" stroke-width="1.15"/>
<circle cx="270.45" cy="493.22" r="1.5" fill="none" stroke="#c80c80" stroke-width="1.15"/>
<circle cx="280.65" cy="493.97" r="1.5" fill="none" stroke="#c80c80" stroke-width="1.15"/>
<circle cx="265.35" cy="494.46" r="1.5" fill="none" stroke="#c80c80" stroke-width="1.15"/>
<circle cx="273.00" cy="495.46" r="1.5" fill="none" stroke="#c80c80" stroke-width="1.15"/>
<circle cx="278.10" cy="496.45" r="1.5" fill="none" stroke="#c80c80" stroke-width="1.15"/>
<circle cx="267.90" cy="496.95" r="1.5" fill="none" stroke="#c80c80" stroke-width="1.15"/>
<circle cx="283.20" cy="497.70" r="1.5" fill="none" stroke="#c80c80" stroke-width="1.15"/>
<circle cx="275.55" cy="498.69" r="1.5" fill="none" stroke="#c80c80" stroke-width="1.15"/>
<circle cx="270.45" cy="499.43" r="1.5" fill="none" stroke="#c80c80" stroke-width="1.15"/>
<circle cx="280.65" cy="500.68" r="1.5" fill="none" stroke="#c80c80" stroke-width="1.15"/>
<circle cx="265.35" cy="501.42" r="1.5" fill="none" stroke="#c80c80" stroke-width="1.15"/>
<circle cx="273.00" cy="502.42" r="1.5" fill="none" stroke="#c80c80" stroke-width="1.15"/>
<circle cx="278.10" cy="503.91" r="1.5" fill="none" stroke="#c80c80" stroke-width="1.15"/>
<circle cx="270.45" cy="505.65" r="1.5" fill="none" stroke="#c80c80" stroke-width="1.15"/>
<circle cx="273.00" cy="508.13" r="1.5" fill="none" stroke="#c80c80" stroke-width="1.15"/>
<circle cx="273.00" cy="512.36" r="1.5" fill="none" stroke="#c80c80" stroke-width="1.15"/>
<circle cx="273.00" cy="448.74" r="1.5" fill="none" stroke="#c80c80" stroke-width="1.15"/>
<line x1="297.90000000000003" y1="458.4" x2="322.3" y2="458.4" stroke="#6cb0e6" stroke-width="1.1" />
<line x1="310.1" y1="436.25" x2="310.1" y2="480.4" stroke="#6cb0e6" stroke-width="1.1" />
<line x1="304.1" y1="436.25" x2="316.1" y2="436.25" stroke="#6cb0e6" stroke-width="1.1" />
<line x1="304.1" y1="480.4" x2="316.1" y2="480.4" stroke="#6cb0e6" stroke-width="1.1" />
<circle cx="310.00" cy="421.90" r="1.5" fill="none" stroke="#6cb0e6" stroke-width="1.15"/>
<circle cx="307.30" cy="430.30" r="1.5" fill="none" stroke="#6cb0e6" stroke-width="1.15"/>
<circle cx="312.60" cy="430.50" r="1.5" fill="none" stroke="#6cb0e6" stroke-width="1.15"/>
<circle cx="310.00" cy="437.50" r="1.5" fill="none" stroke="#6cb0e6" stroke-width="1.15"/>
<circle cx="305.00" cy="443.40" r="1.5" fill="none" stroke="#6cb0e6" stroke-width="1.15"/>
<circle cx="310.00" cy="442.00" r="1.5" fill="none" stroke="#6cb0e6" stroke-width="1.15"/>
<circle cx="315.30" cy="444.60" r="1.5" fill="none" stroke="#6cb0e6" stroke-width="1.15"/>
<circle cx="310.00" cy="446.90" r="1.5" fill="none" stroke="#6cb0e6" stroke-width="1.15"/>
<circle cx="299.60" cy="450.60" r="1.5" fill="none" stroke="#6cb0e6" stroke-width="1.15"/>
<circle cx="305.00" cy="448.80" r="1.5" fill="none" stroke="#6cb0e6" stroke-width="1.15"/>
<circle cx="310.00" cy="451.80" r="1.5" fill="none" stroke="#6cb0e6" stroke-width="1.15"/>
<circle cx="315.20" cy="451.80" r="1.5" fill="none" stroke="#6cb0e6" stroke-width="1.15"/>
<circle cx="320.30" cy="451.00" r="1.5" fill="none" stroke="#6cb0e6" stroke-width="1.15"/>
<circle cx="307.20" cy="457.70" r="1.5" fill="none" stroke="#6cb0e6" stroke-width="1.15"/>
<circle cx="312.60" cy="457.70" r="1.5" fill="none" stroke="#6cb0e6" stroke-width="1.15"/>
<circle cx="302.00" cy="474.60" r="1.5" fill="none" stroke="#6cb0e6" stroke-width="1.15"/>
<circle cx="307.30" cy="472.80" r="1.5" fill="none" stroke="#6cb0e6" stroke-width="1.15"/>
<circle cx="312.60" cy="474.00" r="1.5" fill="none" stroke="#6cb0e6" stroke-width="1.15"/>
<circle cx="317.80" cy="473.30" r="1.5" fill="none" stroke="#6cb0e6" stroke-width="1.15"/>
<circle cx="310.00" cy="486.90" r="1.5" fill="none" stroke="#6cb0e6" stroke-width="1.15"/>
<circle cx="307.30" cy="494.60" r="1.5" fill="none" stroke="#6cb0e6" stroke-width="1.15"/>
<circle cx="312.60" cy="495.90" r="1.5" fill="none" stroke="#6cb0e6" stroke-width="1.15"/>
<circle cx="310.00" cy="500.40" r="1.5" fill="none" stroke="#6cb0e6" stroke-width="1.15"/>
<line x1="388.5" y1="395.5" x2="388.5" y2="522.2" stroke="#000" stroke-width="1.25" />
<line x1="385.2" y1="521.6" x2="512.5" y2="521.6" stroke="#000" stroke-width="1.3" />
<line x1="385.2" y1="521.4" x2="388.5" y2="521.4" stroke="#000" stroke-width="1" />
<text x="382.2" y="524.6999999999999" font-size="9.2" text-anchor="end" font-weight="normal" font-style="normal" fill="#111"  stroke="#111" stroke-width="0.12">0</text>
<line x1="385.2" y1="496.71999999999997" x2="388.5" y2="496.71999999999997" stroke="#000" stroke-width="1" />
<text x="382.2" y="500.02" font-size="9.2" text-anchor="end" font-weight="normal" font-style="normal" fill="#111"  stroke="#111" stroke-width="0.12">20</text>
<line x1="385.2" y1="472.03999999999996" x2="388.5" y2="472.03999999999996" stroke="#000" stroke-width="1" />
<text x="382.2" y="475.34" font-size="9.2" text-anchor="end" font-weight="normal" font-style="normal" fill="#111"  stroke="#111" stroke-width="0.12">40</text>
<line x1="385.2" y1="447.36" x2="388.5" y2="447.36" stroke="#000" stroke-width="1" />
<text x="382.2" y="450.66" font-size="9.2" text-anchor="end" font-weight="normal" font-style="normal" fill="#111"  stroke="#111" stroke-width="0.12">60</text>
<line x1="385.2" y1="422.67999999999995" x2="388.5" y2="422.67999999999995" stroke="#000" stroke-width="1" />
<text x="382.2" y="425.97999999999996" font-size="9.2" text-anchor="end" font-weight="normal" font-style="normal" fill="#111"  stroke="#111" stroke-width="0.12">80</text>
<line x1="385.2" y1="398.0" x2="388.5" y2="398.0" stroke="#000" stroke-width="1" />
<text x="382.2" y="401.3" font-size="9.2" text-anchor="end" font-weight="normal" font-style="normal" fill="#111"  stroke="#111" stroke-width="0.12">100</text>
<line x1="413.3" y1="521.8" x2="413.3" y2="524.6" stroke="#000" stroke-width="0.9" />
<line x1="450.3" y1="521.8" x2="450.3" y2="524.6" stroke="#000" stroke-width="0.9" />
<line x1="487.5" y1="521.8" x2="487.5" y2="524.6" stroke="#000" stroke-width="0.9" />
<text transform="translate(360.4,457.5) rotate(-90) scale(0.731,1)" x="0" y="0" font-size="10.0" text-anchor="middle" fill="#111" stroke="#111" stroke-width="0.25">% donor non-erythroid marrow</text>
<text x="450.9" y="388.5" font-size="9.97" text-anchor="middle" font-weight="normal" font-style="normal" fill="#111"  stroke="#111" stroke-width="0.12">Donor Myelomonocyte</text>
<text x="413.3" y="535.8" font-size="8.6" text-anchor="middle" font-weight="normal" font-style="normal" fill="#111"  stroke="#111" stroke-width="0.12">WT</text>
<text x="450.3" y="535.8" font-size="8.6" font-style="italic" text-anchor="middle" fill="#111">gata2b<tspan font-size="6" dy="-3.4">het</tspan></text>
<text x="487.5" y="535.8" font-size="8.6" font-style="italic" text-anchor="middle" fill="#111">gata2b<tspan font-size="6" dy="-3.4">ko</tspan></text>
<polyline points="413.3,434.4 413.3,403.8 486.9,403.8 486.9,441.2" fill="none" stroke="#555" stroke-width="1"/>
<polyline points="450.4,418.5 450.4,409.9 486.9,409.9" fill="none" stroke="#555" stroke-width="1"/>
<circle cx="450.8" cy="399.3" r="1.0" fill="#111"/>
<circle cx="468" cy="407.9" r="1.0" fill="#111"/>
<line x1="401.20000000000005" y1="467.5" x2="425.0" y2="467.5" stroke="#561f6e" stroke-width="1.1" />
<line x1="413.1" y1="450.8" x2="413.1" y2="483.5" stroke="#561f6e" stroke-width="1.1" />
<line x1="407.1" y1="450.8" x2="419.1" y2="450.8" stroke="#561f6e" stroke-width="1.1" />
<line x1="407.1" y1="483.5" x2="419.1" y2="483.5" stroke="#561f6e" stroke-width="1.1" />
<circle cx="409.80" cy="444.20" r="1.5" fill="none" stroke="#561f6e" stroke-width="1.15"/>
<circle cx="416.70" cy="443.00" r="1.5" fill="none" stroke="#561f6e" stroke-width="1.15"/>
<circle cx="406.10" cy="452.30" r="1.5" fill="none" stroke="#561f6e" stroke-width="1.15"/>
<circle cx="412.90" cy="450.50" r="1.5" fill="none" stroke="#561f6e" stroke-width="1.15"/>
<circle cx="419.80" cy="452.30" r="1.5" fill="none" stroke="#561f6e" stroke-width="1.15"/>
<circle cx="406.10" cy="457.70" r="1.5" fill="none" stroke="#561f6e" stroke-width="1.15"/>
<circle cx="412.90" cy="458.20" r="1.5" fill="none" stroke="#561f6e" stroke-width="1.15"/>
<circle cx="419.80" cy="457.70" r="1.5" fill="none" stroke="#561f6e" stroke-width="1.15"/>
<circle cx="416.70" cy="464.20" r="1.5" fill="none" stroke="#561f6e" stroke-width="1.15"/>
<circle cx="423.50" cy="462.90" r="1.5" fill="none" stroke="#561f6e" stroke-width="1.15"/>
<circle cx="402.70" cy="467.30" r="1.5" fill="none" stroke="#561f6e" stroke-width="1.15"/>
<circle cx="409.80" cy="470.40" r="1.5" fill="none" stroke="#561f6e" stroke-width="1.15"/>
<circle cx="416.70" cy="470.10" r="1.5" fill="none" stroke="#561f6e" stroke-width="1.15"/>
<circle cx="423.50" cy="467.90" r="1.5" fill="none" stroke="#561f6e" stroke-width="1.15"/>
<circle cx="409.80" cy="479.70" r="1.5" fill="none" stroke="#561f6e" stroke-width="1.15"/>
<circle cx="416.70" cy="477.90" r="1.5" fill="none" stroke="#561f6e" stroke-width="1.15"/>
<circle cx="412.90" cy="484.70" r="1.5" fill="none" stroke="#561f6e" stroke-width="1.15"/>
<circle cx="409.80" cy="489.10" r="1.5" fill="none" stroke="#561f6e" stroke-width="1.15"/>
<circle cx="416.70" cy="490.30" r="1.5" fill="none" stroke="#561f6e" stroke-width="1.15"/>
<circle cx="412.90" cy="502.10" r="1.5" fill="none" stroke="#561f6e" stroke-width="1.15"/>
<circle cx="402.7" cy="467.3" r="1.7" fill="#561f6e"/>
<line x1="437.8" y1="468.4" x2="462.40000000000003" y2="468.4" stroke="#c80c80" stroke-width="1.1" />
<line x1="450.1" y1="446.4" x2="450.1" y2="490.5" stroke="#c80c80" stroke-width="1.1" />
<line x1="444.6" y1="446.4" x2="455.6" y2="446.4" stroke="#c80c80" stroke-width="1.1" />
<line x1="444.6" y1="490.5" x2="455.6" y2="490.5" stroke="#c80c80" stroke-width="1.1" />
<circle cx="450.00" cy="426.90" r="1.5" fill="none" stroke="#c80c80" stroke-width="1.15"/>
<circle cx="447.50" cy="436.50" r="1.5" fill="none" stroke="#c80c80" stroke-width="1.15"/>
<circle cx="453.00" cy="436.50" r="1.5" fill="none" stroke="#c80c80" stroke-width="1.15"/>
<circle cx="442.20" cy="446.00" r="1.5" fill="none" stroke="#c80c80" stroke-width="1.15"/>
<circle cx="447.50" cy="445.00" r="1.5" fill="none" stroke="#c80c80" stroke-width="1.15"/>
<circle cx="452.60" cy="444.40" r="1.5" fill="none" stroke="#c80c80" stroke-width="1.15"/>
<circle cx="457.90" cy="443.10" r="1.5" fill="none" stroke="#c80c80" stroke-width="1.15"/>
<circle cx="439.80" cy="454.30" r="1.5" fill="none" stroke="#c80c80" stroke-width="1.15"/>
<circle cx="444.70" cy="455.10" r="1.5" fill="none" stroke="#c80c80" stroke-width="1.15"/>
<circle cx="455.10" cy="451.60" r="1.5" fill="none" stroke="#c80c80" stroke-width="1.15"/>
<circle cx="460.40" cy="454.30" r="1.5" fill="none" stroke="#c80c80" stroke-width="1.15"/>
<circle cx="450.00" cy="460.40" r="1.5" fill="none" stroke="#c80c80" stroke-width="1.15"/>
<circle cx="455.10" cy="459.20" r="1.5" fill="none" stroke="#c80c80" stroke-width="1.15"/>
<circle cx="450.00" cy="465.30" r="1.5" fill="none" stroke="#c80c80" stroke-width="1.15"/>
<circle cx="444.70" cy="471.90" r="1.5" fill="none" stroke="#c80c80" stroke-width="1.15"/>
<circle cx="455.10" cy="474.10" r="1.5" fill="none" stroke="#c80c80" stroke-width="1.15"/>
<circle cx="444.70" cy="476.90" r="1.5" fill="none" stroke="#c80c80" stroke-width="1.15"/>
<circle cx="450.00" cy="475.70" r="1.5" fill="none" stroke="#c80c80" stroke-width="1.15"/>
<circle cx="450.00" cy="482.60" r="1.5" fill="none" stroke="#c80c80" stroke-width="1.15"/>
<circle cx="444.70" cy="485.90" r="1.5" fill="none" stroke="#c80c80" stroke-width="1.15"/>
<circle cx="450.00" cy="487.60" r="1.5" fill="none" stroke="#c80c80" stroke-width="1.15"/>
<circle cx="455.10" cy="486.80" r="1.5" fill="none" stroke="#c80c80" stroke-width="1.15"/>
<circle cx="444.70" cy="492.50" r="1.5" fill="none" stroke="#c80c80" stroke-width="1.15"/>
<circle cx="450.00" cy="491.70" r="1.5" fill="none" stroke="#c80c80" stroke-width="1.15"/>
<circle cx="455.10" cy="492.20" r="1.5" fill="none" stroke="#c80c80" stroke-width="1.15"/>
<circle cx="460.40" cy="491.70" r="1.5" fill="none" stroke="#c80c80" stroke-width="1.15"/>
<circle cx="450.00" cy="497.80" r="1.5" fill="none" stroke="#c80c80" stroke-width="1.15"/>
<circle cx="455.10" cy="495.50" r="1.5" fill="none" stroke="#c80c80" stroke-width="1.15"/>
<circle cx="450.00" cy="504.40" r="1.5" fill="none" stroke="#c80c80" stroke-width="1.15"/>
<line x1="475.1" y1="490.6" x2="499" y2="490.6" stroke="#6cb0e6" stroke-width="1.1"/>
<line x1="481.2" y1="474.7" x2="492.9" y2="474.7" stroke="#6cb0e6" stroke-width="1.1" />
<line x1="487" y1="474.7" x2="487" y2="506.5" stroke="#6cb0e6" stroke-width="1.1" />
<circle cx="488.60" cy="449.30" r="1.5" fill="none" stroke="#6cb0e6" stroke-width="1.15"/>
<circle cx="485.50" cy="453.60" r="1.5" fill="none" stroke="#6cb0e6" stroke-width="1.15"/>
<circle cx="485.50" cy="465.20" r="1.5" fill="none" stroke="#6cb0e6" stroke-width="1.15"/>
<circle cx="488.60" cy="463.40" r="1.5" fill="none" stroke="#6cb0e6" stroke-width="1.15"/>
<circle cx="488.60" cy="469.50" r="1.5" fill="none" stroke="#6cb0e6" stroke-width="1.15"/>
<circle cx="482.40" cy="477.90" r="1.5" fill="none" stroke="#6cb0e6" stroke-width="1.15"/>
<circle cx="485.50" cy="476.70" r="1.5" fill="none" stroke="#6cb0e6" stroke-width="1.15"/>
<circle cx="489.80" cy="477.90" r="1.5" fill="none" stroke="#6cb0e6" stroke-width="1.15"/>
<circle cx="491.60" cy="479.60" r="1.5" fill="none" stroke="#6cb0e6" stroke-width="1.15"/>
<circle cx="485.50" cy="481.60" r="1.5" fill="none" stroke="#6cb0e6" stroke-width="1.15"/>
<circle cx="479.40" cy="486.10" r="1.5" fill="none" stroke="#6cb0e6" stroke-width="1.15"/>
<circle cx="482.40" cy="484.90" r="1.5" fill="none" stroke="#6cb0e6" stroke-width="1.15"/>
<circle cx="491.60" cy="484.00" r="1.5" fill="none" stroke="#6cb0e6" stroke-width="1.15"/>
<circle cx="494.70" cy="484.90" r="1.5" fill="none" stroke="#6cb0e6" stroke-width="1.15"/>
<circle cx="485.50" cy="487.90" r="1.5" fill="none" stroke="#6cb0e6" stroke-width="1.15"/>
<circle cx="488.60" cy="488.60" r="1.5" fill="none" stroke="#6cb0e6" stroke-width="1.15"/>
<circle cx="482.40" cy="493.10" r="1.5" fill="none" stroke="#6cb0e6" stroke-width="1.15"/>
<circle cx="491.60" cy="492.90" r="1.5" fill="none" stroke="#6cb0e6" stroke-width="1.15"/>
<circle cx="494.70" cy="494.70" r="1.5" fill="none" stroke="#6cb0e6" stroke-width="1.15"/>
<circle cx="479.40" cy="495.60" r="1.5" fill="none" stroke="#6cb0e6" stroke-width="1.15"/>
<circle cx="485.50" cy="494.10" r="1.5" fill="none" stroke="#6cb0e6" stroke-width="1.15"/>
<circle cx="488.60" cy="495.30" r="1.5" fill="none" stroke="#6cb0e6" stroke-width="1.15"/>
<circle cx="482.40" cy="498.00" r="1.5" fill="none" stroke="#6cb0e6" stroke-width="1.15"/>
<circle cx="491.60" cy="497.10" r="1.5" fill="none" stroke="#6cb0e6" stroke-width="1.15"/>
<circle cx="494.70" cy="499.00" r="1.5" fill="none" stroke="#6cb0e6" stroke-width="1.15"/>
<circle cx="479.40" cy="500.20" r="1.5" fill="none" stroke="#6cb0e6" stroke-width="1.15"/>
<circle cx="485.50" cy="499.00" r="1.5" fill="none" stroke="#6cb0e6" stroke-width="1.15"/>
<circle cx="488.60" cy="499.00" r="1.5" fill="none" stroke="#6cb0e6" stroke-width="1.15"/>
<circle cx="476.90" cy="502.70" r="1.5" fill="none" stroke="#6cb0e6" stroke-width="1.15"/>
<circle cx="485.50" cy="502.70" r="1.5" fill="none" stroke="#6cb0e6" stroke-width="1.15"/>
<circle cx="476.90" cy="507.60" r="1.5" fill="none" stroke="#6cb0e6" stroke-width="1.15"/>
<circle cx="482.40" cy="507.00" r="1.5" fill="none" stroke="#6cb0e6" stroke-width="1.15"/>
<circle cx="485.50" cy="508.20" r="1.5" fill="none" stroke="#6cb0e6" stroke-width="1.15"/>
<circle cx="488.60" cy="508.80" r="1.5" fill="none" stroke="#6cb0e6" stroke-width="1.15"/>
<circle cx="491.60" cy="507.00" r="1.5" fill="none" stroke="#6cb0e6" stroke-width="1.15"/>
<circle cx="494.70" cy="508.20" r="1.5" fill="none" stroke="#6cb0e6" stroke-width="1.15"/>
<circle cx="497.80" cy="507.00" r="1.5" fill="none" stroke="#6cb0e6" stroke-width="1.15"/>
<circle cx="479.40" cy="505.10" r="1.5" fill="none" stroke="#6cb0e6" stroke-width="1.15"/>
<path d="M275.00,63.20 L275.50,63.20 L276.00,63.20 L276.50,63.20 L277.00,63.20 L277.50,63.20 L278.00,63.20 L278.50,63.20 L279.00,63.20 L279.50,63.20 L280.00,63.20 L280.50,63.20 L281.00,63.20 L281.50,63.20 L282.00,63.20 L282.50,63.20 L283.00,63.20 L283.50,63.20 L284.00,63.20 L284.50,63.20 L285.00,63.20 L285.50,63.20 L286.00,63.20 L286.50,63.20 L287.00,63.20 L287.50,63.20 L288.00,63.20 L288.50,63.20 L289.00,63.20 L289.50,63.20 L290.00,63.20 L290.50,63.20 L291.00,63.20 L291.50,63.20 L292.00,63.20 L292.50,63.20 L293.00,63.20 L293.50,63.20 L294.00,63.20 L294.50,63.20 L295.00,63.20 L295.50,63.20 L296.00,63.20 L296.50,63.20 L297.00,63.20 L297.50,63.20 L298.00,63.20 L298.50,63.20 L299.00,63.20 L299.50,63.20 L300.00,63.20 L300.50,63.20 L301.00,63.20 L301.50,63.20 L302.00,63.20 L302.50,63.20 L303.00,63.20 L303.50,63.20 L304.00,63.20 L304.50,63.20 L305.00,63.20 L305.50,63.20 L306.00,63.20 L306.50,63.20 L307.00,63.20 L307.50,63.20 L308.00,63.20 L308.50,63.20 L309.00,63.20 L309.50,63.20 L310.00,63.20 L310.50,63.20 L311.00,63.20 L311.50,63.20 L312.00,63.20 L312.50,63.20 L313.00,63.20 L313.50,63.20 L314.00,63.20 L314.50,63.20 L315.00,63.20 L315.50,63.20 L316.00,63.20 L316.50,63.20 L317.00,63.20 L317.50,63.20 L318.00,63.20 L318.50,63.20 L319.00,63.20 L319.50,63.20 L320.00,63.20 L320.50,63.20 L321.00,63.20 L321.50,63.20 L322.00,63.20 L322.50,63.20 L323.00,63.20 L323.50,63.20 L324.00,63.20 L324.50,63.20 L325.00,63.20 L325.50,63.20 L326.00,63.20 L326.50,63.20 L327.00,63.20 L327.50,63.20 L328.00,63.20 L328.50,63.20 L329.00,63.20 L329.50,63.20 L330.00,63.20 L330.50,63.20 L331.00,63.20 L331.50,63.20 L332.00,63.20 L332.50,63.20 L333.00,63.20 L333.50,63.20 L334.00,63.20 L334.50,63.20 L335.00,63.20 L335.50,63.20 L336.00,63.20 L336.50,63.20 L337.00,63.20 L337.50,63.20 L338.00,63.20 L338.50,63.20 L339.00,63.20 L339.50,63.20 L340.00,63.20 L340.50,63.20 L341.00,63.20 L341.50,63.20 L342.00,63.20 L342.50,63.20 L343.00,63.20 L343.50,63.20 L344.00,63.20 L344.50,63.20 L345.00,63.20 L345.50,63.20 L346.00,63.20 L346.50,63.20 L347.00,63.20 L347.50,63.19 L348.00,63.19 L348.50,63.18 L349.00,63.16 L349.50,63.12 L350.00,63.05 L350.50,62.93 L351.00,62.74 L351.50,62.45 L352.00,62.01 L352.50,61.37 L353.00,60.48 L353.50,59.29 L354.00,57.78 L354.50,55.93 L355.00,53.76 L355.50,51.36 L356.00,48.82 L356.50,46.30 L357.00,43.96 L357.50,41.97 L358.00,40.45 L358.50,39.50 L359.00,39.13 L359.50,39.29 L360.00,39.87 L360.50,40.70 L361.00,41.62 L361.50,42.46 L362.00,43.09 L362.50,43.45 L363.00,43.52 L363.50,43.33 L364.00,42.96 L364.50,42.53 L365.00,42.12 L365.50,41.86 L366.00,41.80 L366.50,41.99 L367.00,42.43 L367.50,43.09 L368.00,43.91 L368.50,44.82 L369.00,45.72 L369.50,46.52 L370.00,47.15 L370.50,47.53 L371.00,47.63 L371.50,47.44 L372.00,46.96 L372.50,46.24 L373.00,45.34 L373.50,44.33 L374.00,43.30 L374.50,42.35 L375.00,41.55 L375.50,40.99 L376.00,40.71 L376.50,40.76 L377.00,41.13 L377.50,41.82 L378.00,42.78 L378.50,43.92 L379.00,45.15 L379.50,46.34 L380.00,47.37 L380.50,48.09 L381.00,48.40 L381.50,48.21 L382.00,47.52 L382.50,46.38 L383.00,44.96 L383.50,43.46 L384.00,42.14 L384.50,41.28 L385.00,41.07 L385.50,41.63 L386.00,42.97 L386.50,44.97 L387.00,47.44 L387.50,50.14 L388.00,52.83 L388.50,55.31 L389.00,57.46 L389.50,59.20 L390.00,60.53 L390.50,61.50 L391.00,62.16 L391.50,62.59 L392.00,62.86 L392.50,63.02 L393.00,63.11 L393.50,63.15 L394.00,63.18 L394.50,63.19 L395.00,63.19 L395.50,63.19 L396.00,63.19 L396.50,63.19 L397.00,63.18 L397.50,63.17 L398.00,63.15 L398.50,63.11 L399.00,63.06 L399.50,62.98 L400.00,62.87 L400.50,62.70 L401.00,62.47 L401.50,62.15 L402.00,61.73 L402.50,61.19 L403.00,60.51 L403.50,59.67 L404.00,58.68 L404.50,57.53 L405.00,56.24 L405.50,54.85 L406.00,53.40 L406.50,51.96 L407.00,50.57 L407.50,49.33 L408.00,48.30 L408.50,47.54 L409.00,47.10 L409.50,47.01 L410.00,47.28 L410.50,47.88 L411.00,48.78 L411.50,49.92 L412.00,51.25 L412.50,52.67 L413.00,54.13 L413.50,55.55 L414.00,56.90 L414.50,58.12 L415.00,59.19 L415.50,60.11 L416.00,60.86 L416.50,61.48 L417.00,61.95 L417.50,62.32 L418.00,62.59 L418.50,62.79 L419.00,62.93 L419.50,63.02 L420.00,63.09 L420.50,63.13 L421.00,63.16 L421.50,63.18 L422.00,63.19 L422.50,63.19 L423.00,63.20 L423.50,63.20 L424.00,63.20 L424.50,63.20 L425.00,63.20 L425.50,63.20 L426.00,63.20 L426.50,63.20 L427.00,63.20 L427.50,63.20 L428.00,63.20 L428.50,63.20 L429.00,63.20 L429.50,63.20 L430.00,63.20 L430.50,63.20 L431.00,63.20 L431.50,63.20 L432.00,63.20 L432.50,63.20 L433.00,63.20 L433.50,63.20 L434.00,63.20 L434.50,63.20 L435.00,63.20 L435.50,63.20 L436.00,63.20 L436.50,63.20 L437.00,63.20 L437.50,63.20 L438.00,63.20 L438.50,63.20 L439.00,63.20 L439.50,63.20 L440.00,63.20 L440.50,63.20 L441.00,63.20 L441.50,63.20 L442.00,63.20 L442.50,63.19 L443.00,63.19 L443.50,63.18 L444.00,63.17 L444.50,63.15 L445.00,63.12 L445.50,63.07 L446.00,63.00 L446.50,62.89 L447.00,62.74 L447.50,62.52 L448.00,62.22 L448.50,61.82 L449.00,61.30 L449.50,60.64 L450.00,59.81 L450.50,58.81 L451.00,57.63 L451.50,56.28 L452.00,54.78 L452.50,53.17 L453.00,51.49 L453.50,49.80 L454.00,48.19 L454.50,46.71 L455.00,45.44 L455.50,44.44 L456.00,43.75 L456.50,43.39 L457.00,43.33 L457.50,43.54 L458.00,43.95 L458.50,44.48 L459.00,45.03 L459.50,45.51 L460.00,45.83 L460.50,45.93 L461.00,45.77 L461.50,45.36 L462.00,44.74 L462.50,43.98 L463.00,43.17 L463.50,42.41 L464.00,41.81 L464.50,41.46 L465.00,41.42 L465.50,41.71 L466.00,42.33 L466.50,43.21 L467.00,44.29 L467.50,45.45 L468.00,46.60 L468.50,47.61 L469.00,48.42 L469.50,48.95 L470.00,49.18 L470.50,49.10 L471.00,48.77 L471.50,48.23 L472.00,47.58 L472.50,46.90 L473.00,46.30 L473.50,45.85 L474.00,45.62 L474.50,45.66 L475.00,45.97 L475.50,46.56 L476.00,47.36 L476.50,48.31 L477.00,49.32 L477.50,50.27 L478.00,51.06 L478.50,51.58 L479.00,51.74 L479.50,51.51 L480.00,50.87 L480.50,49.88 L481.00,48.66 L481.50,47.36 L482.00,46.17 L482.50,45.26 L483.00,44.80 L483.50,44.90 L484.00,45.58 L484.50,46.81 L485.00,48.48 L485.50,50.45 L486.00,52.55 L486.50,54.63 L487.00,56.55 L487.50,58.23 L488.00,59.62 L488.50,60.71 L489.00,61.54 L489.50,62.13 L490.00,62.53 L490.50,62.80 L491.00,62.97 L491.50,63.07" fill="none" stroke="#5677bd" stroke-width="0.95" stroke-linejoin="round"/>
<path d="M275.00,44.32 L275.50,45.49 L276.00,46.82 L276.50,48.25 L277.00,49.75 L277.50,51.27 L278.00,52.76 L278.50,54.19 L279.00,55.54 L279.50,56.77 L280.00,57.88 L280.50,58.86 L281.00,59.71 L281.50,60.43 L282.00,61.03 L282.50,61.53 L283.00,61.93 L283.50,62.24 L284.00,62.49 L284.50,62.68 L285.00,62.83 L285.50,62.93 L286.00,63.01 L286.50,63.06 L287.00,63.09 L287.50,63.11 L288.00,63.09 L288.50,63.05 L289.00,62.97 L289.50,62.82 L290.00,62.58 L290.50,62.22 L291.00,61.69 L291.50,60.96 L292.00,59.98 L292.50,58.72 L293.00,57.18 L293.50,55.37 L294.00,53.36 L294.50,51.25 L295.00,49.16 L295.50,47.25 L296.00,45.69 L296.50,44.61 L297.00,44.12 L297.50,44.27 L298.00,45.04 L298.50,46.36 L299.00,48.10 L299.50,50.11 L300.00,52.23 L300.50,54.32 L301.00,56.24 L301.50,57.93 L302.00,59.34 L302.50,60.47 L303.00,61.33 L303.50,61.96 L304.00,62.41 L304.50,62.71 L305.00,62.91 L305.50,63.03 L306.00,63.11 L306.50,63.15 L307.00,63.17 L307.50,63.19 L308.00,63.19 L308.50,63.20 L309.00,63.20 L309.50,63.20 L310.00,63.20 L310.50,63.20 L311.00,63.20 L311.50,63.20 L312.00,63.20 L312.50,63.20 L313.00,63.20 L313.50,63.20 L314.00,63.20 L314.50,63.20 L315.00,63.20 L315.50,63.20 L316.00,63.20 L316.50,63.20 L317.00,63.20 L317.50,63.20 L318.00,63.20 L318.50,63.20 L319.00,63.20 L319.50,63.20 L320.00,63.20 L320.50,63.20 L321.00,63.20 L321.50,63.20 L322.00,63.20 L322.50,63.20 L323.00,63.20 L323.50,63.20 L324.00,63.20 L324.50,63.20 L325.00,63.19 L325.50,63.18 L326.00,63.17 L326.50,63.15 L327.00,63.11 L327.50,63.04 L328.00,62.94 L328.50,62.78 L329.00,62.54 L329.50,62.19 L330.00,61.71 L330.50,61.07 L331.00,60.23 L331.50,59.18 L332.00,57.92 L332.50,56.46 L333.00,54.84 L333.50,53.12 L334.00,51.40 L334.50,49.78 L335.00,48.38 L335.50,47.29 L336.00,46.61 L336.50,46.40 L337.00,46.67 L337.50,47.40 L338.00,48.53 L338.50,49.97 L339.00,51.61 L339.50,53.33 L340.00,55.04 L340.50,56.65 L341.00,58.08 L341.50,59.32 L342.00,60.34 L342.50,61.16 L343.00,61.78 L343.50,62.24 L344.00,62.57 L344.50,62.80 L345.00,62.95 L345.50,63.05 L346.00,63.11 L346.50,63.15 L347.00,63.17 L347.50,63.19 L348.00,63.19 L348.50,63.20 L349.00,63.20 L349.50,63.20 L350.00,63.20 L350.50,63.20 L351.00,63.20 L351.50,63.20 L352.00,63.20 L352.50,63.20 L353.00,63.20 L353.50,63.20 L354.00,63.20 L354.50,63.20 L355.00,63.20 L355.50,63.20 L356.00,63.20 L356.50,63.20 L357.00,63.20 L357.50,63.20 L358.00,63.20 L358.50,63.20 L359.00,63.20 L359.50,63.20 L360.00,63.20 L360.50,63.20 L361.00,63.20 L361.50,63.20 L362.00,63.20 L362.50,63.20 L363.00,63.20 L363.50,63.20 L364.00,63.20 L364.50,63.20 L365.00,63.20 L365.50,63.20 L366.00,63.20 L366.50,63.20 L367.00,63.20 L367.50,63.20 L368.00,63.20 L368.50,63.20 L369.00,63.20 L369.50,63.20 L370.00,63.20 L370.50,63.20 L371.00,63.20 L371.50,63.20 L372.00,63.20 L372.50,63.20 L373.00,63.20 L373.50,63.20 L374.00,63.20 L374.50,63.20 L375.00,63.20 L375.50,63.20 L376.00,63.20 L376.50,63.20 L377.00,63.20 L377.50,63.20 L378.00,63.20 L378.50,63.20 L379.00,63.20 L379.50,63.20 L380.00,63.20 L380.50,63.20 L381.00,63.20 L381.50,63.20 L382.00,63.20 L382.50,63.19 L383.00,63.18 L383.50,63.17 L384.00,63.14 L384.50,63.09 L385.00,63.01 L385.50,62.88 L386.00,62.67 L386.50,62.34 L387.00,61.86 L387.50,61.18 L388.00,60.26 L388.50,59.05 L389.00,57.52 L389.50,55.69 L390.00,53.57 L390.50,51.26 L391.00,48.86 L391.50,46.53 L392.00,44.45 L392.50,42.77 L393.00,41.66 L393.50,41.21 L394.00,41.46 L394.50,42.40 L395.00,43.94 L395.50,45.93 L396.00,48.21 L396.50,50.60 L397.00,52.95 L397.50,55.13 L398.00,57.05 L398.50,58.66 L399.00,59.96 L399.50,60.96 L400.00,61.70 L400.50,62.23 L401.00,62.59 L401.50,62.83 L402.00,62.98 L402.50,63.08 L403.00,63.13 L403.50,63.16 L404.00,63.18 L404.50,63.19 L405.00,63.20 L405.50,63.20 L406.00,63.20 L406.50,63.20 L407.00,63.20 L407.50,63.20 L408.00,63.20 L408.50,63.20 L409.00,63.20 L409.50,63.20 L410.00,63.20 L410.50,63.20 L411.00,63.20 L411.50,63.20 L412.00,63.20 L412.50,63.20 L413.00,63.20 L413.50,63.20 L414.00,63.20 L414.50,63.20 L415.00,63.20 L415.50,63.20 L416.00,63.20 L416.50,63.20 L417.00,63.20 L417.50,63.20 L418.00,63.20 L418.50,63.20 L419.00,63.20 L419.50,63.20 L420.00,63.20 L420.50,63.20 L421.00,63.20 L421.50,63.20 L422.00,63.20 L422.50,63.20 L423.00,63.20 L423.50,63.20 L424.00,63.20 L424.50,63.19 L425.00,63.19 L425.50,63.18 L426.00,63.17 L426.50,63.16 L427.00,63.14 L427.50,63.11 L428.00,63.08 L428.50,63.02 L429.00,62.95 L429.50,62.86 L430.00,62.73 L430.50,62.56 L431.00,62.35 L431.50,62.09 L432.00,61.76 L432.50,61.36 L433.00,60.88 L433.50,60.31 L434.00,59.66 L434.50,58.91 L435.00,58.08 L435.50,57.16 L436.00,56.18 L436.50,55.14 L437.00,54.08 L437.50,53.02 L438.00,51.98 L438.50,51.00 L439.00,50.10 L439.50,49.32 L440.00,48.68 L440.50,48.18 L441.00,47.84 L441.50,47.63 L442.00,47.52 L442.50,47.49 L443.00,47.46 L443.50,47.37 L444.00,47.17 L444.50,46.79 L445.00,46.21 L445.50,45.41 L446.00,44.45 L446.50,43.39 L447.00,42.35 L447.50,41.47 L448.00,40.89 L448.50,40.72 L449.00,41.07 L449.50,41.95 L450.00,43.35 L450.50,45.18 L451.00,47.33 L451.50,49.64 L452.00,51.97 L452.50,54.20 L453.00,56.21 L453.50,57.94 L454.00,59.37 L454.50,60.50 L455.00,61.36 L455.50,61.98 L456.00,62.42 L456.50,62.72 L457.00,62.91 L457.50,63.03 L458.00,63.10 L458.50,63.15 L459.00,63.17 L459.50,63.19 L460.00,63.19 L460.50,63.20 L461.00,63.20 L461.50,63.20 L462.00,63.20 L462.50,63.20 L463.00,63.20 L463.50,63.20 L464.00,63.20 L464.50,63.20 L465.00,63.20 L465.50,63.20 L466.00,63.20 L466.50,63.20 L467.00,63.20 L467.50,63.20 L468.00,63.20 L468.50,63.20 L469.00,63.20 L469.50,63.20 L470.00,63.20 L470.50,63.20 L471.00,63.20 L471.50,63.20 L472.00,63.20 L472.50,63.20 L473.00,63.20 L473.50,63.20 L474.00,63.20 L474.50,63.20 L475.00,63.20 L475.50,63.20 L476.00,63.20 L476.50,63.20 L477.00,63.20 L477.50,63.20 L478.00,63.20 L478.50,63.20 L479.00,63.20 L479.50,63.20 L480.00,63.20 L480.50,63.20 L481.00,63.20 L481.50,63.20 L482.00,63.20 L482.50,63.20 L483.00,63.20 L483.50,63.20 L484.00,63.20 L484.50,63.20 L485.00,63.20 L485.50,63.20 L486.00,63.20 L486.50,63.20 L487.00,63.20 L487.50,63.20 L488.00,63.20 L488.50,63.20 L489.00,63.20 L489.50,63.20 L490.00,63.20 L490.50,63.20 L491.00,63.20 L491.50,63.20" fill="none" stroke="#76c261" stroke-width="0.95" stroke-linejoin="round"/>
<path d="M275.00,47.75 L275.50,48.98 L276.00,50.41 L276.50,51.96 L277.00,53.56 L277.50,55.11 L278.00,56.57 L278.50,57.90 L279.00,59.05 L279.50,60.03 L280.00,60.83 L280.50,61.47 L281.00,61.97 L281.50,62.34 L282.00,62.62 L282.50,62.81 L283.00,62.95 L283.50,63.04 L284.00,63.10 L284.50,63.14 L285.00,63.16 L285.50,63.18 L286.00,63.19 L286.50,63.19 L287.00,63.20 L287.50,63.20 L288.00,63.20 L288.50,63.20 L289.00,63.20 L289.50,63.20 L290.00,63.20 L290.50,63.20 L291.00,63.20 L291.50,63.20 L292.00,63.19 L292.50,63.18 L293.00,63.17 L293.50,63.14 L294.00,63.09 L294.50,63.00 L295.00,62.85 L295.50,62.61 L296.00,62.25 L296.50,61.73 L297.00,61.00 L297.50,60.02 L298.00,58.77 L298.50,57.26 L299.00,55.52 L299.50,53.62 L300.00,51.68 L300.50,49.85 L301.00,48.28 L301.50,47.12 L302.00,46.49 L302.50,46.46 L303.00,47.03 L303.50,48.15 L304.00,49.69 L304.50,51.50 L305.00,53.44 L305.50,55.35 L306.00,57.11 L306.50,58.64 L307.00,59.91 L307.50,60.92 L308.00,61.67 L308.50,62.21 L309.00,62.58 L309.50,62.83 L310.00,62.99 L310.50,63.08 L311.00,63.14 L311.50,63.17 L312.00,63.18 L312.50,63.19 L313.00,63.20 L313.50,63.20 L314.00,63.20 L314.50,63.20 L315.00,63.20 L315.50,63.20 L316.00,63.20 L316.50,63.20 L317.00,63.20 L317.50,63.20 L318.00,63.20 L318.50,63.20 L319.00,63.20 L319.50,63.20 L320.00,63.20 L320.50,63.20 L321.00,63.20 L321.50,63.20 L322.00,63.20 L322.50,63.20 L323.00,63.20 L323.50,63.20 L324.00,63.20 L324.50,63.20 L325.00,63.20 L325.50,63.20 L326.00,63.20 L326.50,63.20 L327.00,63.20 L327.50,63.20 L328.00,63.20 L328.50,63.20 L329.00,63.20 L329.50,63.20 L330.00,63.19 L330.50,63.18 L331.00,63.17 L331.50,63.14 L332.00,63.10 L332.50,63.02 L333.00,62.89 L333.50,62.70 L334.00,62.40 L334.50,61.98 L335.00,61.38 L335.50,60.59 L336.00,59.57 L336.50,58.31 L337.00,56.81 L337.50,55.13 L338.00,53.33 L338.50,51.51 L339.00,49.80 L339.50,48.32 L340.00,47.20 L340.50,46.55 L341.00,46.42 L341.50,46.82 L342.00,47.73 L342.50,49.05 L343.00,50.66 L343.50,52.45 L344.00,54.27 L344.50,56.02 L345.00,57.61 L345.50,58.99 L346.00,60.13 L346.50,61.03 L347.00,61.72 L347.50,62.22 L348.00,62.57 L348.50,62.81 L349.00,62.96 L349.50,63.06 L350.00,63.12 L350.50,63.16 L351.00,63.18 L351.50,63.19 L352.00,63.19 L352.50,63.20 L353.00,63.20 L353.50,63.20 L354.00,63.20 L354.50,63.20 L355.00,63.20 L355.50,63.20 L356.00,63.20 L356.50,63.20 L357.00,63.20 L357.50,63.20 L358.00,63.20 L358.50,63.20 L359.00,63.20 L359.50,63.20 L360.00,63.20 L360.50,63.20 L361.00,63.20 L361.50,63.20 L362.00,63.20 L362.50,63.20 L363.00,63.20 L363.50,63.20 L364.00,63.20 L364.50,63.20 L365.00,63.20 L365.50,63.20 L366.00,63.20 L366.50,63.20 L367.00,63.20 L367.50,63.20 L368.00,63.20 L368.50,63.20 L369.00,63.20 L369.50,63.20 L370.00,63.20 L370.50,63.20 L371.00,63.20 L371.50,63.20 L372.00,63.20 L372.50,63.20 L373.00,63.20 L373.50,63.20 L374.00,63.20 L374.50,63.20 L375.00,63.20 L375.50,63.20 L376.00,63.20 L376.50,63.20 L377.00,63.20 L377.50,63.20 L378.00,63.20 L378.50,63.20 L379.00,63.20 L379.50,63.20 L380.00,63.20 L380.50,63.20 L381.00,63.20 L381.50,63.20 L382.00,63.20 L382.50,63.20 L383.00,63.20 L383.50,63.20 L384.00,63.20 L384.50,63.20 L385.00,63.20 L385.50,63.20 L386.00,63.20 L386.50,63.20 L387.00,63.20 L387.50,63.20 L388.00,63.20 L388.50,63.20 L389.00,63.20 L389.50,63.20 L390.00,63.20 L390.50,63.20 L391.00,63.20 L391.50,63.20 L392.00,63.20 L392.50,63.20 L393.00,63.20 L393.50,63.20 L394.00,63.20 L394.50,63.20 L395.00,63.20 L395.50,63.20 L396.00,63.20 L396.50,63.20 L397.00,63.20 L397.50,63.20 L398.00,63.20 L398.50,63.20 L399.00,63.20 L399.50,63.20 L400.00,63.20 L400.50,63.20 L401.00,63.20 L401.50,63.20 L402.00,63.20 L402.50,63.20 L403.00,63.20 L403.50,63.20 L404.00,63.20 L404.50,63.20 L405.00,63.20 L405.50,63.20 L406.00,63.20 L406.50,63.20 L407.00,63.20 L407.50,63.20 L408.00,63.20 L408.50,63.20 L409.00,63.20 L409.50,63.20 L410.00,63.20 L410.50,63.20 L411.00,63.20 L411.50,63.20 L412.00,63.20 L412.50,63.20 L413.00,63.20 L413.50,63.20 L414.00,63.20 L414.50,63.20 L415.00,63.20 L415.50,63.20 L416.00,63.20 L416.50,63.20 L417.00,63.20 L417.50,63.20 L418.00,63.20 L418.50,63.20 L419.00,63.20 L419.50,63.20 L420.00,63.20 L420.50,63.20 L421.00,63.20 L421.50,63.20 L422.00,63.20 L422.50,63.20 L423.00,63.20 L423.50,63.20 L424.00,63.20 L424.50,63.20 L425.00,63.20 L425.50,63.20 L426.00,63.20 L426.50,63.20 L427.00,63.20 L427.50,63.20 L428.00,63.20 L428.50,63.20 L429.00,63.20 L429.50,63.20 L430.00,63.20 L430.50,63.20 L431.00,63.20 L431.50,63.20 L432.00,63.20 L432.50,63.20 L433.00,63.20 L433.50,63.20 L434.00,63.20 L434.50,63.20 L435.00,63.20 L435.50,63.20 L436.00,63.20 L436.50,63.20 L437.00,63.20 L437.50,63.20 L438.00,63.20 L438.50,63.20 L439.00,63.20 L439.50,63.20 L440.00,63.20 L440.50,63.20 L441.00,63.20 L441.50,63.20 L442.00,63.20 L442.50,63.20 L443.00,63.20 L443.50,63.20 L444.00,63.20 L444.50,63.20 L445.00,63.20 L445.50,63.20 L446.00,63.20 L446.50,63.20 L447.00,63.20 L447.50,63.20 L448.00,63.20 L448.50,63.20 L449.00,63.20 L449.50,63.20 L450.00,63.20 L450.50,63.20 L451.00,63.20 L451.50,63.20 L452.00,63.20 L452.50,63.20 L453.00,63.20 L453.50,63.20 L454.00,63.20 L454.50,63.20 L455.00,63.20 L455.50,63.20 L456.00,63.20 L456.50,63.20 L457.00,63.20 L457.50,63.20 L458.00,63.20 L458.50,63.20 L459.00,63.20 L459.50,63.20 L460.00,63.20 L460.50,63.20 L461.00,63.20 L461.50,63.20 L462.00,63.20 L462.50,63.20 L463.00,63.20 L463.50,63.20 L464.00,63.20 L464.50,63.20 L465.00,63.20 L465.50,63.20 L466.00,63.20 L466.50,63.20 L467.00,63.20 L467.50,63.20 L468.00,63.20 L468.50,63.20 L469.00,63.20 L469.50,63.20 L470.00,63.20 L470.50,63.20 L471.00,63.20 L471.50,63.20 L472.00,63.20 L472.50,63.20 L473.00,63.20 L473.50,63.20 L474.00,63.20 L474.50,63.20 L475.00,63.20 L475.50,63.20 L476.00,63.20 L476.50,63.20 L477.00,63.20 L477.50,63.20 L478.00,63.20 L478.50,63.20 L479.00,63.20 L479.50,63.20 L480.00,63.20 L480.50,63.20 L481.00,63.20 L481.50,63.20 L482.00,63.20 L482.50,63.20 L483.00,63.20 L483.50,63.20 L484.00,63.20 L484.50,63.20 L485.00,63.20 L485.50,63.20 L486.00,63.20 L486.50,63.20 L487.00,63.20 L487.50,63.20 L488.00,63.20 L488.50,63.20 L489.00,63.20 L489.50,63.20 L490.00,63.20 L490.50,63.20 L491.00,63.20 L491.50,63.20" fill="none" stroke="#c62f47" stroke-width="0.95" stroke-linejoin="round"/>
<path d="M275.00,63.14 L275.50,63.10 L276.00,63.04 L276.50,62.96 L277.00,62.84 L277.50,62.67 L278.00,62.43 L278.50,62.11 L279.00,61.69 L279.50,61.13 L280.00,60.42 L280.50,59.54 L281.00,58.47 L281.50,57.19 L282.00,55.71 L282.50,54.04 L283.00,52.20 L283.50,50.23 L284.00,48.19 L284.50,46.14 L285.00,44.18 L285.50,42.37 L286.00,40.81 L286.50,39.57 L287.00,38.72 L287.50,38.30 L288.00,38.34 L288.50,38.84 L289.00,39.76 L289.50,41.06 L290.00,42.67 L290.50,44.52 L291.00,46.50 L291.50,48.55 L292.00,50.59 L292.50,52.54 L293.00,54.35 L293.50,55.99 L294.00,57.43 L294.50,58.67 L295.00,59.71 L295.50,60.56 L296.00,61.24 L296.50,61.77 L297.00,62.18 L297.50,62.48 L298.00,62.70 L298.50,62.86 L299.00,62.98 L299.50,63.05 L300.00,63.10 L300.50,63.14 L301.00,63.15 L301.50,63.16 L302.00,63.16 L302.50,63.14 L303.00,63.12 L303.50,63.08 L304.00,63.01 L304.50,62.92 L305.00,62.78 L305.50,62.59 L306.00,62.33 L306.50,61.98 L307.00,61.51 L307.50,60.90 L308.00,60.14 L308.50,59.20 L309.00,58.07 L309.50,56.73 L310.00,55.18 L310.50,53.45 L311.00,51.56 L311.50,49.56 L312.00,47.50 L312.50,45.46 L313.00,43.51 L313.50,41.75 L314.00,40.25 L314.50,39.09 L315.00,38.33 L315.50,38.01 L316.00,38.15 L316.50,38.73 L317.00,39.73 L317.50,41.09 L318.00,42.73 L318.50,44.57 L319.00,46.51 L319.50,48.44 L320.00,50.27 L320.50,51.91 L321.00,53.26 L321.50,54.25 L322.00,54.82 L322.50,54.95 L323.00,54.63 L323.50,53.90 L324.00,52.83 L324.50,51.53 L325.00,50.16 L325.50,48.87 L326.00,47.82 L326.50,47.17 L327.00,47.00 L327.50,47.36 L328.00,48.22 L328.50,49.51 L329.00,51.12 L329.50,52.91 L330.00,54.73 L330.50,56.47 L331.00,58.04 L331.50,59.38 L332.00,60.47 L332.50,61.32 L333.00,61.95 L333.50,62.39 L334.00,62.70 L334.50,62.90 L335.00,63.03 L335.50,63.10 L336.00,63.15 L336.50,63.17 L337.00,63.19 L337.50,63.19 L338.00,63.20 L338.50,63.20 L339.00,63.20 L339.50,63.20 L340.00,63.20 L340.50,63.20 L341.00,63.19 L341.50,63.18 L342.00,63.17 L342.50,63.15 L343.00,63.11 L343.50,63.05 L344.00,62.95 L344.50,62.79 L345.00,62.55 L345.50,62.20 L346.00,61.71 L346.50,61.02 L347.00,60.10 L347.50,58.90 L348.00,57.40 L348.50,55.57 L349.00,53.43 L349.50,51.00 L350.00,48.37 L350.50,45.63 L351.00,42.91 L351.50,40.39 L352.00,38.20 L352.50,36.51 L353.00,35.44 L353.50,35.07 L354.00,35.43 L354.50,36.49 L355.00,38.17 L355.50,40.35 L356.00,42.87 L356.50,45.58 L357.00,48.32 L357.50,50.96 L358.00,53.39 L358.50,55.54 L359.00,57.37 L359.50,58.88 L360.00,60.08 L360.50,61.01 L361.00,61.70 L361.50,62.20 L362.00,62.55 L362.50,62.79 L363.00,62.94 L363.50,63.05 L364.00,63.11 L364.50,63.15 L365.00,63.17 L365.50,63.18 L366.00,63.19 L366.50,63.20 L367.00,63.20 L367.50,63.20 L368.00,63.20 L368.50,63.20 L369.00,63.20 L369.50,63.20 L370.00,63.20 L370.50,63.20 L371.00,63.20 L371.50,63.20 L372.00,63.20 L372.50,63.20 L373.00,63.20 L373.50,63.20 L374.00,63.20 L374.50,63.20 L375.00,63.20 L375.50,63.20 L376.00,63.20 L376.50,63.20 L377.00,63.20 L377.50,63.20 L378.00,63.20 L378.50,63.20 L379.00,63.20 L379.50,63.20 L380.00,63.20 L380.50,63.20 L381.00,63.20 L381.50,63.20 L382.00,63.20 L382.50,63.20 L383.00,63.20 L383.50,63.20 L384.00,63.20 L384.50,63.20 L385.00,63.20 L385.50,63.20 L386.00,63.20 L386.50,63.20 L387.00,63.20 L387.50,63.20 L388.00,63.20 L388.50,63.20 L389.00,63.20 L389.50,63.20 L390.00,63.20 L390.50,63.20 L391.00,63.20 L391.50,63.20 L392.00,63.20 L392.50,63.20 L393.00,63.20 L393.50,63.20 L394.00,63.20 L394.50,63.19 L395.00,63.18 L395.50,63.15 L396.00,63.10 L396.50,63.01 L397.00,62.85 L397.50,62.57 L398.00,62.13 L398.50,61.46 L399.00,60.46 L399.50,59.08 L400.00,57.24 L400.50,54.93 L401.00,52.19 L401.50,49.13 L402.00,45.94 L402.50,42.88 L403.00,40.25 L403.50,38.32 L404.00,37.31 L404.50,37.35 L405.00,38.43 L405.50,40.42 L406.00,43.09 L406.50,46.16 L407.00,49.34 L407.50,52.37 L408.00,55.06 L408.50,57.30 L409.00,59.05 L409.50,60.33 L410.00,61.18 L410.50,61.69 L411.00,61.90 L411.50,61.87 L412.00,61.64 L412.50,61.22 L413.00,60.62 L413.50,59.83 L414.00,58.85 L414.50,57.64 L415.00,56.22 L415.50,54.58 L416.00,52.72 L416.50,50.68 L417.00,48.49 L417.50,46.20 L418.00,43.89 L418.50,41.62 L419.00,39.48 L419.50,37.57 L420.00,35.97 L420.50,34.74 L421.00,33.96 L421.50,33.65 L422.00,33.83 L422.50,34.50 L423.00,35.62 L423.50,37.14 L424.00,38.98 L424.50,41.07 L425.00,43.31 L425.50,45.62 L426.00,47.93 L426.50,50.15 L427.00,52.23 L427.50,54.14 L428.00,55.83 L428.50,57.31 L429.00,58.57 L429.50,59.62 L430.00,60.48 L430.50,61.17 L431.00,61.71 L431.50,62.12 L432.00,62.43 L432.50,62.66 L433.00,62.83 L433.50,62.95 L434.00,63.03 L434.50,63.09 L435.00,63.13 L435.50,63.16 L436.00,63.17 L436.50,63.18 L437.00,63.19 L437.50,63.19 L438.00,63.20 L438.50,63.20 L439.00,63.20 L439.50,63.20 L440.00,63.20 L440.50,63.20 L441.00,63.20 L441.50,63.20 L442.00,63.20 L442.50,63.20 L443.00,63.20 L443.50,63.20 L444.00,63.20 L444.50,63.20 L445.00,63.20 L445.50,63.20 L446.00,63.20 L446.50,63.20 L447.00,63.20 L447.50,63.20 L448.00,63.20 L448.50,63.20 L449.00,63.20 L449.50,63.20 L450.00,63.20 L450.50,63.20 L451.00,63.20 L451.50,63.20 L452.00,63.20 L452.50,63.20 L453.00,63.20 L453.50,63.20 L454.00,63.20 L454.50,63.20 L455.00,63.20 L455.50,63.20 L456.00,63.20 L456.50,63.20 L457.00,63.20 L457.50,63.20 L458.00,63.20 L458.50,63.20 L459.00,63.20 L459.50,63.20 L460.00,63.20 L460.50,63.20 L461.00,63.20 L461.50,63.19 L462.00,63.19 L462.50,63.19 L463.00,63.19 L463.50,63.18 L464.00,63.18 L464.50,63.17 L465.00,63.16 L465.50,63.16 L466.00,63.14 L466.50,63.13 L467.00,63.11 L467.50,63.09 L468.00,63.06 L468.50,63.03 L469.00,62.99 L469.50,62.95 L470.00,62.90 L470.50,62.84 L471.00,62.78 L471.50,62.70 L472.00,62.62 L472.50,62.53 L473.00,62.42 L473.50,62.31 L474.00,62.19 L474.50,62.06 L475.00,61.92 L475.50,61.78 L476.00,61.63 L476.50,61.48 L477.00,61.32 L477.50,61.17 L478.00,61.02 L478.50,60.87 L479.00,60.73 L479.50,60.60 L480.00,60.48 L480.50,60.38 L481.00,60.29 L481.50,60.22 L482.00,60.17 L482.50,60.14 L483.00,60.13 L483.50,60.14 L484.00,60.17 L484.50,60.20 L485.00,60.23 L485.50,60.24 L486.00,60.19 L486.50,60.03 L487.00,59.70 L487.50,59.12 L488.00,58.20 L488.50,56.87 L489.00,55.07 L489.50,52.84 L490.00,50.28 L490.50,47.58 L491.00,45.04 L491.50,42.94" fill="none" stroke="#2a2a2a" stroke-width="0.95" stroke-linejoin="round"/>
<path d="M277.00,106.90 L277.50,106.90 L278.00,106.90 L278.50,106.90 L279.00,106.90 L279.50,106.90 L280.00,106.90 L280.50,106.90 L281.00,106.90 L281.50,106.90 L282.00,106.90 L282.50,106.90 L283.00,106.90 L283.50,106.90 L284.00,106.90 L284.50,106.90 L285.00,106.90 L285.50,106.90 L286.00,106.90 L286.50,106.90 L287.00,106.90 L287.50,106.90 L288.00,106.90 L288.50,106.90 L289.00,106.90 L289.50,106.90 L290.00,106.90 L290.50,106.90 L291.00,106.90 L291.50,106.90 L292.00,106.90 L292.50,106.90 L293.00,106.90 L293.50,106.90 L294.00,106.90 L294.50,106.90 L295.00,106.90 L295.50,106.90 L296.00,106.90 L296.50,106.90 L297.00,106.90 L297.50,106.90 L298.00,106.90 L298.50,106.90 L299.00,106.90 L299.50,106.90 L300.00,106.90 L300.50,106.90 L301.00,106.90 L301.50,106.90 L302.00,106.90 L302.50,106.90 L303.00,106.90 L303.50,106.90 L304.00,106.90 L304.50,106.90 L305.00,106.90 L305.50,106.90 L306.00,106.90 L306.50,106.90 L307.00,106.90 L307.50,106.90 L308.00,106.90 L308.50,106.90 L309.00,106.90 L309.50,106.90 L310.00,106.90 L310.50,106.90 L311.00,106.90 L311.50,106.90 L312.00,106.90 L312.50,106.90 L313.00,106.90 L313.50,106.90 L314.00,106.90 L314.50,106.90 L315.00,106.90 L315.50,106.90 L316.00,106.90 L316.50,106.90 L317.00,106.90 L317.50,106.90 L318.00,106.90 L318.50,106.90 L319.00,106.90 L319.50,106.90 L320.00,106.90 L320.50,106.90 L321.00,106.90 L321.50,106.90 L322.00,106.90 L322.50,106.90 L323.00,106.90 L323.50,106.90 L324.00,106.90 L324.50,106.90 L325.00,106.90 L325.50,106.90 L326.00,106.90 L326.50,106.90 L327.00,106.90 L327.50,106.90 L328.00,106.90 L328.50,106.90 L329.00,106.90 L329.50,106.90 L330.00,106.90 L330.50,106.90 L331.00,106.90 L331.50,106.90 L332.00,106.90 L332.50,106.90 L333.00,106.90 L333.50,106.90 L334.00,106.90 L334.50,106.90 L335.00,106.90 L335.50,106.90 L336.00,106.90 L336.50,106.90 L337.00,106.90 L337.50,106.90 L338.00,106.90 L338.50,106.90 L339.00,106.90 L339.50,106.90 L340.00,106.90 L340.50,106.90 L341.00,106.90 L341.50,106.90 L342.00,106.90 L342.50,106.90 L343.00,106.90 L343.50,106.90 L344.00,106.90 L344.50,106.90 L345.00,106.90 L345.50,106.90 L346.00,106.90 L346.50,106.90 L347.00,106.90 L347.50,106.90 L348.00,106.90 L348.50,106.90 L349.00,106.90 L349.50,106.90 L350.00,106.90 L350.50,106.90 L351.00,106.90 L351.50,106.90 L352.00,106.90 L352.50,106.89 L353.00,106.88 L353.50,106.87 L354.00,106.85 L354.50,106.81 L355.00,106.74 L355.50,106.63 L356.00,106.47 L356.50,106.23 L357.00,105.88 L357.50,105.39 L358.00,104.73 L358.50,103.86 L359.00,102.78 L359.50,101.46 L360.00,99.91 L360.50,98.17 L361.00,96.31 L361.50,94.40 L362.00,92.56 L362.50,90.89 L363.00,89.52 L363.50,88.53 L364.00,87.99 L364.50,87.91 L365.00,88.27 L365.50,88.99 L366.00,89.95 L366.50,91.00 L367.00,92.00 L367.50,92.80 L368.00,93.28 L368.50,93.40 L369.00,93.13 L369.50,92.53 L370.00,91.70 L370.50,90.77 L371.00,89.91 L371.50,89.27 L372.00,88.97 L372.50,89.11 L373.00,89.72 L373.50,90.77 L374.00,92.20 L374.50,93.90 L375.00,95.75 L375.50,97.63 L376.00,99.43 L376.50,101.07 L377.00,102.48 L377.50,103.66 L378.00,104.60 L378.50,105.31 L379.00,105.84 L379.50,106.21 L380.00,106.47 L380.50,106.64 L381.00,106.75 L381.50,106.81 L382.00,106.85 L382.50,106.87 L383.00,106.89 L383.50,106.89 L384.00,106.90 L384.50,106.90 L385.00,106.90 L385.50,106.90 L386.00,106.90 L386.50,106.90 L387.00,106.90 L387.50,106.90 L388.00,106.90 L388.50,106.90 L389.00,106.90 L389.50,106.90 L390.00,106.90 L390.50,106.90 L391.00,106.90 L391.50,106.89 L392.00,106.88 L392.50,106.87 L393.00,106.84 L393.50,106.79 L394.00,106.71 L394.50,106.59 L395.00,106.40 L395.50,106.12 L396.00,105.72 L396.50,105.16 L397.00,104.43 L397.50,103.48 L398.00,102.32 L398.50,100.96 L399.00,99.41 L399.50,97.76 L400.00,96.07 L400.50,94.47 L401.00,93.05 L401.50,91.95 L402.00,91.24 L402.50,91.00 L403.00,91.24 L403.50,91.95 L404.00,93.05 L404.50,94.47 L405.00,96.07 L405.50,97.76 L406.00,99.41 L406.50,100.96 L407.00,102.32 L407.50,103.48 L408.00,104.43 L408.50,105.16 L409.00,105.72 L409.50,106.12 L410.00,106.40 L410.50,106.59 L411.00,106.71 L411.50,106.79 L412.00,106.84 L412.50,106.87 L413.00,106.88 L413.50,106.89 L414.00,106.90 L414.50,106.90 L415.00,106.90 L415.50,106.90 L416.00,106.90 L416.50,106.90 L417.00,106.90 L417.50,106.90 L418.00,106.90 L418.50,106.90 L419.00,106.90 L419.50,106.90 L420.00,106.90 L420.50,106.90 L421.00,106.90 L421.50,106.90 L422.00,106.90 L422.50,106.90 L423.00,106.90 L423.50,106.90 L424.00,106.90 L424.50,106.90 L425.00,106.90 L425.50,106.90 L426.00,106.90 L426.50,106.90 L427.00,106.90 L427.50,106.90 L428.00,106.90 L428.50,106.90 L429.00,106.90 L429.50,106.90 L430.00,106.90 L430.50,106.90 L431.00,106.90 L431.50,106.90 L432.00,106.90 L432.50,106.90 L433.00,106.90 L433.50,106.90 L434.00,106.90 L434.50,106.90 L435.00,106.90 L435.50,106.90 L436.00,106.90 L436.50,106.90 L437.00,106.90 L437.50,106.90 L438.00,106.90 L438.50,106.90 L439.00,106.90 L439.50,106.90 L440.00,106.90 L440.50,106.90 L441.00,106.90 L441.50,106.90 L442.00,106.90 L442.50,106.90 L443.00,106.90 L443.50,106.90 L444.00,106.90 L444.50,106.90 L445.00,106.90 L445.50,106.90 L446.00,106.90 L446.50,106.90 L447.00,106.90 L447.50,106.90 L448.00,106.90 L448.50,106.90 L449.00,106.90 L449.50,106.90 L450.00,106.90 L450.50,106.89 L451.00,106.89 L451.50,106.89 L452.00,106.88 L452.50,106.87 L453.00,106.86 L453.50,106.84 L454.00,106.81 L454.50,106.75 L455.00,106.64 L455.50,106.43 L456.00,106.06 L456.50,105.41 L457.00,104.38 L457.50,102.84 L458.00,100.75 L458.50,98.19 L459.00,95.39 L459.50,92.72 L460.00,90.60 L460.50,89.41 L461.00,89.31 L461.50,90.22 L462.00,91.84 L462.50,93.74 L463.00,95.50 L463.50,96.84 L464.00,97.63 L464.50,97.88 L465.00,97.70 L465.50,97.20 L466.00,96.53 L466.50,95.77 L467.00,95.01 L467.50,94.29 L468.00,93.65 L468.50,93.10 L469.00,92.68 L469.50,92.38 L470.00,92.23 L470.50,92.22 L471.00,92.35 L471.50,92.63 L472.00,93.04 L472.50,93.56 L473.00,94.19 L473.50,94.88 L474.00,95.61 L474.50,96.33 L475.00,96.97 L475.50,97.46 L476.00,97.71 L476.50,97.63 L477.00,97.15 L477.50,96.25 L478.00,94.96 L478.50,93.42 L479.00,91.85 L479.50,90.51 L480.00,89.67 L480.50,89.53 L481.00,90.19 L481.50,91.60 L482.00,93.59 L482.50,95.91 L483.00,98.29 L483.50,100.50 L484.00,102.38 L484.50,103.87 L485.00,104.97 L485.50,105.72 L486.00,106.22 L486.50,106.52 L487.00,106.69 L487.50,106.79 L488.00,106.84 L488.50,106.87 L489.00,106.88 L489.50,106.89 L490.00,106.89 L490.50,106.90 L491.00,106.90 L491.50,106.90 L492.00,106.90 L492.50,106.90 L493.00,106.90 L493.50,106.90" fill="none" stroke="#5677bd" stroke-width="0.95" stroke-linejoin="round"/>
<path d="M277.00,97.18 L277.50,98.97 L278.00,100.72 L278.50,102.29 L279.00,103.62 L279.50,104.66 L280.00,105.44 L280.50,105.99 L281.00,106.36 L281.50,106.59 L282.00,106.73 L282.50,106.81 L283.00,106.86 L283.50,106.88 L284.00,106.89 L284.50,106.89 L285.00,106.89 L285.50,106.89 L286.00,106.89 L286.50,106.88 L287.00,106.87 L287.50,106.85 L288.00,106.81 L288.50,106.77 L289.00,106.69 L289.50,106.59 L290.00,106.44 L290.50,106.23 L291.00,105.95 L291.50,105.58 L292.00,105.11 L292.50,104.51 L293.00,103.79 L293.50,102.92 L294.00,101.93 L294.50,100.81 L295.00,99.60 L295.50,98.33 L296.00,97.05 L296.50,95.80 L297.00,94.66 L297.50,93.68 L298.00,92.92 L298.50,92.41 L299.00,92.21 L299.50,92.30 L300.00,92.70 L300.50,93.37 L301.00,94.27 L301.50,95.36 L302.00,96.57 L302.50,97.85 L303.00,99.13 L303.50,100.37 L304.00,101.53 L304.50,102.57 L305.00,103.48 L305.50,104.26 L306.00,104.90 L306.50,105.42 L307.00,105.82 L307.50,106.13 L308.00,106.37 L308.50,106.54 L309.00,106.66 L309.50,106.74 L310.00,106.80 L310.50,106.84 L311.00,106.86 L311.50,106.88 L312.00,106.89 L312.50,106.89 L313.00,106.90 L313.50,106.90 L314.00,106.90 L314.50,106.90 L315.00,106.90 L315.50,106.90 L316.00,106.90 L316.50,106.90 L317.00,106.90 L317.50,106.90 L318.00,106.90 L318.50,106.90 L319.00,106.90 L319.50,106.90 L320.00,106.90 L320.50,106.90 L321.00,106.90 L321.50,106.90 L322.00,106.90 L322.50,106.90 L323.00,106.90 L323.50,106.90 L324.00,106.90 L324.50,106.90 L325.00,106.90 L325.50,106.90 L326.00,106.90 L326.50,106.90 L327.00,106.90 L327.50,106.90 L328.00,106.90 L328.50,106.90 L329.00,106.89 L329.50,106.89 L330.00,106.88 L330.50,106.87 L331.00,106.84 L331.50,106.80 L332.00,106.72 L332.50,106.61 L333.00,106.44 L333.50,106.19 L334.00,105.85 L334.50,105.37 L335.00,104.74 L335.50,103.94 L336.00,102.97 L336.50,101.82 L337.00,100.53 L337.50,99.15 L338.00,97.74 L338.50,96.39 L339.00,95.18 L339.50,94.22 L340.00,93.58 L340.50,93.31 L341.00,93.43 L341.50,93.95 L342.00,94.80 L342.50,95.92 L343.00,97.23 L343.50,98.63 L344.00,100.04 L344.50,101.37 L345.00,102.57 L345.50,103.61 L346.00,104.47 L346.50,105.16 L347.00,105.69 L347.50,106.08 L348.00,106.36 L348.50,106.56 L349.00,106.69 L349.50,106.77 L350.00,106.83 L350.50,106.86 L351.00,106.88 L351.50,106.89 L352.00,106.89 L352.50,106.90 L353.00,106.90 L353.50,106.90 L354.00,106.90 L354.50,106.90 L355.00,106.90 L355.50,106.90 L356.00,106.90 L356.50,106.90 L357.00,106.90 L357.50,106.90 L358.00,106.90 L358.50,106.90 L359.00,106.90 L359.50,106.90 L360.00,106.90 L360.50,106.90 L361.00,106.90 L361.50,106.90 L362.00,106.90 L362.50,106.90 L363.00,106.90 L363.50,106.90 L364.00,106.90 L364.50,106.90 L365.00,106.90 L365.50,106.90 L366.00,106.90 L366.50,106.90 L367.00,106.90 L367.50,106.90 L368.00,106.90 L368.50,106.90 L369.00,106.90 L369.50,106.90 L370.00,106.90 L370.50,106.90 L371.00,106.90 L371.50,106.90 L372.00,106.90 L372.50,106.90 L373.00,106.90 L373.50,106.89 L374.00,106.88 L374.50,106.85 L375.00,106.80 L375.50,106.70 L376.00,106.54 L376.50,106.26 L377.00,105.81 L377.50,105.13 L378.00,104.16 L378.50,102.86 L379.00,101.20 L379.50,99.23 L380.00,97.05 L380.50,94.80 L381.00,92.72 L381.50,91.04 L382.00,89.95 L382.50,89.60 L383.00,90.04 L383.50,91.22 L384.00,92.97 L384.50,95.08 L385.00,97.32 L385.50,99.49 L386.00,101.43 L386.50,103.04 L387.00,104.30 L387.50,105.23 L388.00,105.87 L388.50,106.30 L389.00,106.56 L389.50,106.72 L390.00,106.81 L390.50,106.86 L391.00,106.88 L391.50,106.89 L392.00,106.90 L392.50,106.90 L393.00,106.90 L393.50,106.90 L394.00,106.90 L394.50,106.90 L395.00,106.90 L395.50,106.90 L396.00,106.90 L396.50,106.90 L397.00,106.90 L397.50,106.90 L398.00,106.90 L398.50,106.90 L399.00,106.90 L399.50,106.90 L400.00,106.90 L400.50,106.90 L401.00,106.90 L401.50,106.90 L402.00,106.90 L402.50,106.90 L403.00,106.90 L403.50,106.90 L404.00,106.90 L404.50,106.90 L405.00,106.90 L405.50,106.90 L406.00,106.90 L406.50,106.90 L407.00,106.90 L407.50,106.90 L408.00,106.90 L408.50,106.90 L409.00,106.90 L409.50,106.90 L410.00,106.90 L410.50,106.90 L411.00,106.90 L411.50,106.90 L412.00,106.90 L412.50,106.90 L413.00,106.90 L413.50,106.90 L414.00,106.90 L414.50,106.90 L415.00,106.90 L415.50,106.90 L416.00,106.90 L416.50,106.90 L417.00,106.90 L417.50,106.90 L418.00,106.90 L418.50,106.90 L419.00,106.90 L419.50,106.90 L420.00,106.90 L420.50,106.90 L421.00,106.90 L421.50,106.90 L422.00,106.90 L422.50,106.90 L423.00,106.90 L423.50,106.90 L424.00,106.89 L424.50,106.89 L425.00,106.88 L425.50,106.86 L426.00,106.82 L426.50,106.76 L427.00,106.67 L427.50,106.51 L428.00,106.28 L428.50,105.95 L429.00,105.47 L429.50,104.84 L430.00,104.03 L430.50,103.04 L431.00,101.87 L431.50,100.58 L432.00,99.21 L432.50,97.86 L433.00,96.60 L433.50,95.54 L434.00,94.73 L434.50,94.22 L435.00,94.02 L435.50,94.07 L436.00,94.32 L436.50,94.66 L437.00,94.99 L437.50,95.21 L438.00,95.26 L438.50,95.09 L439.00,94.70 L439.50,94.12 L440.00,93.40 L440.50,92.61 L441.00,91.84 L441.50,91.17 L442.00,90.67 L442.50,90.38 L443.00,90.36 L443.50,90.62 L444.00,91.14 L444.50,91.92 L445.00,92.92 L445.50,94.08 L446.00,95.36 L446.50,96.70 L447.00,98.04 L447.50,99.35 L448.00,100.58 L448.50,101.71 L449.00,102.71 L449.50,103.58 L450.00,104.31 L450.50,104.92 L451.00,105.42 L451.50,105.81 L452.00,106.11 L452.50,106.34 L453.00,106.51 L453.50,106.63 L454.00,106.72 L454.50,106.78 L455.00,106.82 L455.50,106.85 L456.00,106.87 L456.50,106.88 L457.00,106.89 L457.50,106.89 L458.00,106.90 L458.50,106.90 L459.00,106.90 L459.50,106.90 L460.00,106.90 L460.50,106.90 L461.00,106.90 L461.50,106.90 L462.00,106.90 L462.50,106.90 L463.00,106.90 L463.50,106.90 L464.00,106.90 L464.50,106.90 L465.00,106.90 L465.50,106.90 L466.00,106.90 L466.50,106.90 L467.00,106.90 L467.50,106.90 L468.00,106.90 L468.50,106.90 L469.00,106.90 L469.50,106.90 L470.00,106.90 L470.50,106.90 L471.00,106.90 L471.50,106.90 L472.00,106.90 L472.50,106.90 L473.00,106.90 L473.50,106.90 L474.00,106.90 L474.50,106.90 L475.00,106.90 L475.50,106.90 L476.00,106.90 L476.50,106.90 L477.00,106.90 L477.50,106.90 L478.00,106.90 L478.50,106.90 L479.00,106.90 L479.50,106.90 L480.00,106.90 L480.50,106.90 L481.00,106.90 L481.50,106.90 L482.00,106.90 L482.50,106.90 L483.00,106.90 L483.50,106.90 L484.00,106.90 L484.50,106.90 L485.00,106.90 L485.50,106.90 L486.00,106.90 L486.50,106.90 L487.00,106.90 L487.50,106.90 L488.00,106.90 L488.50,106.90 L489.00,106.90 L489.50,106.90 L490.00,106.90 L490.50,106.90 L491.00,106.90 L491.50,106.90 L492.00,106.90 L492.50,106.90 L493.00,106.90 L493.50,106.90" fill="none" stroke="#76c261" stroke-width="0.95" stroke-linejoin="round"/>
<path d="M277.00,93.56 L277.50,94.62 L278.00,95.88 L278.50,97.28 L279.00,98.72 L279.50,100.13 L280.00,101.44 L280.50,102.62 L281.00,103.63 L281.50,104.46 L282.00,105.14 L282.50,105.66 L283.00,106.05 L283.50,106.33 L284.00,106.53 L284.50,106.66 L285.00,106.75 L285.50,106.81 L286.00,106.85 L286.50,106.87 L287.00,106.88 L287.50,106.89 L288.00,106.90 L288.50,106.90 L289.00,106.90 L289.50,106.90 L290.00,106.90 L290.50,106.90 L291.00,106.90 L291.50,106.90 L292.00,106.89 L292.50,106.89 L293.00,106.88 L293.50,106.86 L294.00,106.83 L294.50,106.78 L295.00,106.70 L295.50,106.58 L296.00,106.40 L296.50,106.14 L297.00,105.78 L297.50,105.28 L298.00,104.63 L298.50,103.80 L299.00,102.78 L299.50,101.58 L300.00,100.20 L300.50,98.70 L301.00,97.12 L301.50,95.56 L302.00,94.09 L302.50,92.82 L303.00,91.84 L303.50,91.21 L304.00,91.00 L304.50,91.21 L305.00,91.84 L305.50,92.82 L306.00,94.09 L306.50,95.56 L307.00,97.12 L307.50,98.70 L308.00,100.20 L308.50,101.58 L309.00,102.78 L309.50,103.80 L310.00,104.63 L310.50,105.28 L311.00,105.78 L311.50,106.14 L312.00,106.40 L312.50,106.58 L313.00,106.70 L313.50,106.78 L314.00,106.83 L314.50,106.86 L315.00,106.88 L315.50,106.89 L316.00,106.89 L316.50,106.90 L317.00,106.90 L317.50,106.90 L318.00,106.90 L318.50,106.90 L319.00,106.90 L319.50,106.90 L320.00,106.90 L320.50,106.90 L321.00,106.90 L321.50,106.90 L322.00,106.90 L322.50,106.90 L323.00,106.90 L323.50,106.90 L324.00,106.90 L324.50,106.90 L325.00,106.90 L325.50,106.90 L326.00,106.90 L326.50,106.90 L327.00,106.90 L327.50,106.90 L328.00,106.90 L328.50,106.90 L329.00,106.90 L329.50,106.90 L330.00,106.90 L330.50,106.90 L331.00,106.90 L331.50,106.90 L332.00,106.90 L332.50,106.90 L333.00,106.90 L333.50,106.90 L334.00,106.90 L334.50,106.89 L335.00,106.88 L335.50,106.87 L336.00,106.84 L336.50,106.79 L337.00,106.72 L337.50,106.59 L338.00,106.40 L338.50,106.11 L339.00,105.70 L339.50,105.12 L340.00,104.34 L340.50,103.34 L341.00,102.11 L341.50,100.64 L342.00,98.98 L342.50,97.18 L343.00,95.35 L343.50,93.60 L344.00,92.05 L344.50,90.84 L345.00,90.07 L345.50,89.80 L346.00,90.07 L346.50,90.84 L347.00,92.05 L347.50,93.60 L348.00,95.35 L348.50,97.18 L349.00,98.98 L349.50,100.64 L350.00,102.11 L350.50,103.34 L351.00,104.34 L351.50,105.12 L352.00,105.70 L352.50,106.11 L353.00,106.40 L353.50,106.59 L354.00,106.72 L354.50,106.79 L355.00,106.84 L355.50,106.87 L356.00,106.88 L356.50,106.89 L357.00,106.90 L357.50,106.90 L358.00,106.90 L358.50,106.90 L359.00,106.90 L359.50,106.90 L360.00,106.90 L360.50,106.90 L361.00,106.90 L361.50,106.90 L362.00,106.90 L362.50,106.90 L363.00,106.90 L363.50,106.90 L364.00,106.90 L364.50,106.90 L365.00,106.90 L365.50,106.90 L366.00,106.90 L366.50,106.90 L367.00,106.90 L367.50,106.90 L368.00,106.90 L368.50,106.90 L369.00,106.90 L369.50,106.90 L370.00,106.90 L370.50,106.90 L371.00,106.90 L371.50,106.90 L372.00,106.90 L372.50,106.90 L373.00,106.90 L373.50,106.90 L374.00,106.90 L374.50,106.90 L375.00,106.90 L375.50,106.90 L376.00,106.90 L376.50,106.90 L377.00,106.90 L377.50,106.90 L378.00,106.90 L378.50,106.90 L379.00,106.90 L379.50,106.90 L380.00,106.90 L380.50,106.90 L381.00,106.90 L381.50,106.90 L382.00,106.90 L382.50,106.90 L383.00,106.90 L383.50,106.90 L384.00,106.90 L384.50,106.90 L385.00,106.90 L385.50,106.90 L386.00,106.90 L386.50,106.90 L387.00,106.90 L387.50,106.90 L388.00,106.90 L388.50,106.90 L389.00,106.90 L389.50,106.90 L390.00,106.90 L390.50,106.90 L391.00,106.90 L391.50,106.90 L392.00,106.90 L392.50,106.90 L393.00,106.90 L393.50,106.90 L394.00,106.90 L394.50,106.90 L395.00,106.90 L395.50,106.90 L396.00,106.90 L396.50,106.90 L397.00,106.90 L397.50,106.90 L398.00,106.90 L398.50,106.90 L399.00,106.90 L399.50,106.90 L400.00,106.90 L400.50,106.90 L401.00,106.90 L401.50,106.90 L402.00,106.90 L402.50,106.90 L403.00,106.90 L403.50,106.90 L404.00,106.90 L404.50,106.90 L405.00,106.90 L405.50,106.90 L406.00,106.90 L406.50,106.90 L407.00,106.90 L407.50,106.90 L408.00,106.90 L408.50,106.90 L409.00,106.90 L409.50,106.90 L410.00,106.90 L410.50,106.90 L411.00,106.90 L411.50,106.90 L412.00,106.90 L412.50,106.90 L413.00,106.90 L413.50,106.90 L414.00,106.90 L414.50,106.90 L415.00,106.90 L415.50,106.90 L416.00,106.90 L416.50,106.90 L417.00,106.90 L417.50,106.90 L418.00,106.90 L418.50,106.90 L419.00,106.90 L419.50,106.90 L420.00,106.90 L420.50,106.90 L421.00,106.90 L421.50,106.90 L422.00,106.90 L422.50,106.90 L423.00,106.90 L423.50,106.90 L424.00,106.90 L424.50,106.90 L425.00,106.90 L425.50,106.90 L426.00,106.90 L426.50,106.90 L427.00,106.90 L427.50,106.90 L428.00,106.90 L428.50,106.90 L429.00,106.90 L429.50,106.90 L430.00,106.90 L430.50,106.90 L431.00,106.90 L431.50,106.90 L432.00,106.90 L432.50,106.90 L433.00,106.90 L433.50,106.90 L434.00,106.90 L434.50,106.90 L435.00,106.90 L435.50,106.90 L436.00,106.90 L436.50,106.90 L437.00,106.90 L437.50,106.90 L438.00,106.90 L438.50,106.90 L439.00,106.90 L439.50,106.90 L440.00,106.89 L440.50,106.89 L441.00,106.87 L441.50,106.85 L442.00,106.82 L442.50,106.77 L443.00,106.69 L443.50,106.56 L444.00,106.38 L444.50,106.12 L445.00,105.76 L445.50,105.27 L446.00,104.64 L446.50,103.85 L447.00,102.88 L447.50,101.73 L448.00,100.43 L448.50,99.02 L449.00,97.53 L449.50,96.06 L450.00,94.67 L450.50,93.45 L451.00,92.49 L451.50,91.86 L452.00,91.60 L452.50,91.74 L453.00,92.26 L453.50,93.12 L454.00,94.26 L454.50,95.61 L455.00,97.07 L455.50,98.56 L456.00,100.00 L456.50,101.34 L457.00,102.54 L457.50,103.56 L458.00,104.41 L458.50,105.09 L459.00,105.62 L459.50,106.02 L460.00,106.31 L460.50,106.51 L461.00,106.65 L461.50,106.75 L462.00,106.81 L462.50,106.84 L463.00,106.87 L463.50,106.88 L464.00,106.89 L464.50,106.89 L465.00,106.90 L465.50,106.90 L466.00,106.90 L466.50,106.90 L467.00,106.90 L467.50,106.90 L468.00,106.90 L468.50,106.90 L469.00,106.90 L469.50,106.90 L470.00,106.90 L470.50,106.90 L471.00,106.90 L471.50,106.90 L472.00,106.90 L472.50,106.90 L473.00,106.90 L473.50,106.90 L474.00,106.90 L474.50,106.90 L475.00,106.90 L475.50,106.90 L476.00,106.90 L476.50,106.90 L477.00,106.90 L477.50,106.90 L478.00,106.90 L478.50,106.90 L479.00,106.90 L479.50,106.90 L480.00,106.90 L480.50,106.90 L481.00,106.90 L481.50,106.90 L482.00,106.90 L482.50,106.90 L483.00,106.90 L483.50,106.90 L484.00,106.90 L484.50,106.90 L485.00,106.90 L485.50,106.90 L486.00,106.90 L486.50,106.90 L487.00,106.90 L487.50,106.90 L488.00,106.90 L488.50,106.90 L489.00,106.90 L489.50,106.90 L490.00,106.90 L490.50,106.90 L491.00,106.90 L491.50,106.90 L492.00,106.90 L492.50,106.90 L493.00,106.90 L493.50,106.90" fill="none" stroke="#c62f47" stroke-width="0.95" stroke-linejoin="round"/>
<path d="M277.00,106.85 L277.50,106.82 L278.00,106.77 L278.50,106.69 L279.00,106.58 L279.50,106.42 L280.00,106.18 L280.50,105.85 L281.00,105.41 L281.50,104.84 L282.00,104.09 L282.50,103.17 L283.00,102.06 L283.50,100.75 L284.00,99.25 L284.50,97.61 L285.00,95.87 L285.50,94.08 L286.00,92.34 L286.50,90.72 L287.00,89.33 L287.50,88.23 L288.00,87.51 L288.50,87.20 L289.00,87.33 L289.50,87.89 L290.00,88.85 L290.50,90.13 L291.00,91.67 L291.50,93.37 L292.00,95.15 L292.50,96.92 L293.00,98.61 L293.50,100.17 L294.00,101.55 L294.50,102.75 L295.00,103.75 L295.50,104.56 L296.00,105.20 L296.50,105.69 L297.00,106.06 L297.50,106.33 L298.00,106.52 L298.50,106.65 L299.00,106.74 L299.50,106.80 L300.00,106.84 L300.50,106.87 L301.00,106.88 L301.50,106.89 L302.00,106.89 L302.50,106.90 L303.00,106.90 L303.50,106.90 L304.00,106.90 L304.50,106.90 L305.00,106.90 L305.50,106.89 L306.00,106.89 L306.50,106.88 L307.00,106.86 L307.50,106.83 L308.00,106.79 L308.50,106.72 L309.00,106.61 L309.50,106.44 L310.00,106.19 L310.50,105.84 L311.00,105.36 L311.50,104.72 L312.00,103.90 L312.50,102.86 L313.00,101.61 L313.50,100.14 L314.00,98.50 L314.50,96.71 L315.00,94.86 L315.50,93.04 L316.00,91.35 L316.50,89.91 L317.00,88.80 L317.50,88.11 L318.00,87.89 L318.50,88.16 L319.00,88.89 L319.50,90.02 L320.00,91.45 L320.50,93.10 L321.00,94.82 L321.50,96.51 L322.00,98.07 L322.50,99.40 L323.00,100.44 L323.50,101.14 L324.00,101.49 L324.50,101.49 L325.00,101.14 L325.50,100.50 L326.00,99.59 L326.50,98.50 L327.00,97.30 L327.50,96.06 L328.00,94.87 L328.50,93.82 L329.00,92.99 L329.50,92.43 L330.00,92.20 L330.50,92.30 L331.00,92.75 L331.50,93.49 L332.00,94.50 L332.50,95.70 L333.00,97.01 L333.50,98.38 L334.00,99.73 L334.50,101.01 L335.00,102.17 L335.50,103.19 L336.00,104.06 L336.50,104.78 L337.00,105.35 L337.50,105.79 L338.00,106.13 L338.50,106.38 L339.00,106.55 L339.50,106.67 L340.00,106.76 L340.50,106.81 L341.00,106.85 L341.50,106.87 L342.00,106.88 L342.50,106.89 L343.00,106.89 L343.50,106.90 L344.00,106.90 L344.50,106.90 L345.00,106.90 L345.50,106.90 L346.00,106.90 L346.50,106.89 L347.00,106.88 L347.50,106.87 L348.00,106.85 L348.50,106.81 L349.00,106.75 L349.50,106.65 L350.00,106.49 L350.50,106.26 L351.00,105.92 L351.50,105.44 L352.00,104.79 L352.50,103.93 L353.00,102.82 L353.50,101.45 L354.00,99.82 L354.50,97.93 L355.00,95.83 L355.50,93.61 L356.00,91.36 L356.50,89.21 L357.00,87.29 L357.50,85.74 L358.00,84.66 L358.50,84.14 L359.00,84.22 L359.50,84.90 L360.00,86.11 L360.50,87.78 L361.00,89.78 L361.50,91.97 L362.00,94.22 L362.50,96.42 L363.00,98.46 L363.50,100.28 L364.00,101.85 L364.50,103.15 L365.00,104.18 L365.50,104.99 L366.00,105.59 L366.50,106.02 L367.00,106.33 L367.50,106.54 L368.00,106.68 L368.50,106.77 L369.00,106.82 L369.50,106.86 L370.00,106.88 L370.50,106.89 L371.00,106.89 L371.50,106.90 L372.00,106.90 L372.50,106.90 L373.00,106.90 L373.50,106.90 L374.00,106.90 L374.50,106.90 L375.00,106.90 L375.50,106.90 L376.00,106.90 L376.50,106.90 L377.00,106.90 L377.50,106.90 L378.00,106.90 L378.50,106.90 L379.00,106.90 L379.50,106.90 L380.00,106.90 L380.50,106.90 L381.00,106.90 L381.50,106.90 L382.00,106.90 L382.50,106.90 L383.00,106.90 L383.50,106.89 L384.00,106.88 L384.50,106.87 L385.00,106.84 L385.50,106.79 L386.00,106.71 L386.50,106.58 L387.00,106.36 L387.50,106.04 L388.00,105.57 L388.50,104.91 L389.00,104.01 L389.50,102.85 L390.00,101.40 L390.50,99.68 L391.00,97.71 L391.50,95.60 L392.00,93.44 L392.50,91.39 L393.00,89.61 L393.50,88.24 L394.00,87.42 L394.50,87.21 L395.00,87.65 L395.50,88.68 L396.00,90.21 L396.50,92.11 L397.00,94.22 L397.50,96.38 L398.00,98.45 L398.50,100.33 L399.00,101.96 L399.50,103.30 L400.00,104.37 L400.50,105.17 L401.00,105.76 L401.50,106.17 L402.00,106.44 L402.50,106.61 L403.00,106.72 L403.50,106.76 L404.00,106.77 L404.50,106.74 L405.00,106.68 L405.50,106.57 L406.00,106.40 L406.50,106.15 L407.00,105.80 L407.50,105.32 L408.00,104.67 L408.50,103.83 L409.00,102.76 L409.50,101.42 L410.00,99.80 L410.50,97.89 L411.00,95.71 L411.50,93.28 L412.00,90.66 L412.50,87.93 L413.00,85.20 L413.50,82.58 L414.00,80.21 L414.50,78.20 L415.00,76.68 L415.50,75.72 L416.00,75.40 L416.50,75.72 L417.00,76.68 L417.50,78.20 L418.00,80.21 L418.50,82.58 L419.00,85.20 L419.50,87.93 L420.00,90.66 L420.50,93.28 L421.00,95.71 L421.50,97.90 L422.00,99.80 L422.50,101.42 L423.00,102.76 L423.50,103.83 L424.00,104.67 L424.50,105.32 L425.00,105.80 L425.50,106.15 L426.00,106.40 L426.50,106.57 L427.00,106.69 L427.50,106.77 L428.00,106.82 L428.50,106.85 L429.00,106.87 L429.50,106.88 L430.00,106.89 L430.50,106.89 L431.00,106.90 L431.50,106.90 L432.00,106.90 L432.50,106.90 L433.00,106.90 L433.50,106.90 L434.00,106.90 L434.50,106.90 L435.00,106.90 L435.50,106.90 L436.00,106.90 L436.50,106.90 L437.00,106.90 L437.50,106.90 L438.00,106.90 L438.50,106.90 L439.00,106.90 L439.50,106.90 L440.00,106.90 L440.50,106.90 L441.00,106.90 L441.50,106.90 L442.00,106.90 L442.50,106.90 L443.00,106.90 L443.50,106.90 L444.00,106.90 L444.50,106.90 L445.00,106.90 L445.50,106.90 L446.00,106.90 L446.50,106.90 L447.00,106.90 L447.50,106.90 L448.00,106.90 L448.50,106.90 L449.00,106.90 L449.50,106.90 L450.00,106.90 L450.50,106.90 L451.00,106.90 L451.50,106.90 L452.00,106.90 L452.50,106.90 L453.00,106.90 L453.50,106.90 L454.00,106.90 L454.50,106.90 L455.00,106.90 L455.50,106.90 L456.00,106.90 L456.50,106.90 L457.00,106.90 L457.50,106.90 L458.00,106.90 L458.50,106.90 L459.00,106.90 L459.50,106.90 L460.00,106.90 L460.50,106.90 L461.00,106.90 L461.50,106.90 L462.00,106.90 L462.50,106.90 L463.00,106.90 L463.50,106.90 L464.00,106.90 L464.50,106.90 L465.00,106.90 L465.50,106.90 L466.00,106.90 L466.50,106.90 L467.00,106.90 L467.50,106.90 L468.00,106.90 L468.50,106.90 L469.00,106.90 L469.50,106.90 L470.00,106.90 L470.50,106.90 L471.00,106.90 L471.50,106.90 L472.00,106.90 L472.50,106.90 L473.00,106.90 L473.50,106.90 L474.00,106.90 L474.50,106.90 L475.00,106.90 L475.50,106.90 L476.00,106.90 L476.50,106.90 L477.00,106.90 L477.50,106.90 L478.00,106.90 L478.50,106.90 L479.00,106.90 L479.50,106.90 L480.00,106.90 L480.50,106.90 L481.00,106.90 L481.50,106.90 L482.00,106.90 L482.50,106.90 L483.00,106.89 L483.50,106.88 L484.00,106.86 L484.50,106.81 L485.00,106.72 L485.50,106.55 L486.00,106.27 L486.50,105.81 L487.00,105.10 L487.50,104.07 L488.00,102.65 L488.50,100.80 L489.00,98.56 L489.50,96.01 L490.00,93.33 L490.50,90.77 L491.00,88.59 L491.50,87.08 L492.00,86.42 L492.50,86.70 L493.00,87.90 L493.50,89.83" fill="none" stroke="#2a2a2a" stroke-width="0.95" stroke-linejoin="round"/>
<defs><filter id="bl1" x="-20%" y="-20%" width="140%" height="140%"><feGaussianBlur stdDeviation="0.9"/></filter><filter id="bl2" x="-30%" y="-30%" width="160%" height="160%"><feGaussianBlur stdDeviation="1.8"/></filter><filter id="bl05" x="-20%" y="-20%" width="140%" height="140%"><feGaussianBlur stdDeviation="0.5"/></filter><clipPath id="cp1"><rect x="135.8" y="208.2" width="106.2" height="44.1"/></clipPath><clipPath id="cp2"><rect x="135.8" y="254" width="106.2" height="44.6"/></clipPath><clipPath id="cp3"><rect x="379.9" y="198.8" width="121.9" height="48"/></clipPath><clipPath id="cp4"><rect x="379.9" y="250" width="121.9" height="47.8"/></clipPath><radialGradient id="yolk1" cx="0.45" cy="0.45" r="0.6"><stop offset="0" stop-color="#d6c19c"/><stop offset="0.7" stop-color="#d0ba96"/><stop offset="1" stop-color="#c6b096"/></radialGradient><radialGradient id="yolk2" cx="0.45" cy="0.45" r="0.6"><stop offset="0" stop-color="#dacb96"/><stop offset="0.7" stop-color="#d4c593"/><stop offset="1" stop-color="#c9bc98"/></radialGradient><radialGradient id="yolk3" cx="0.5" cy="0.45" r="0.62"><stop offset="0" stop-color="#cdb58c"/><stop offset="0.7" stop-color="#c0a27a"/><stop offset="1" stop-color="#ae9070"/></radialGradient><radialGradient id="yolk4" cx="0.45" cy="0.55" r="0.62"><stop offset="0" stop-color="#dbcc90"/><stop offset="0.7" stop-color="#cfbb88"/><stop offset="1" stop-color="#b9a07c"/></radialGradient><radialGradient id="head3" cx="0.45" cy="0.5" r="0.6"><stop offset="0" stop-color="#8c6842"/><stop offset="0.6" stop-color="#a07c54"/><stop offset="1" stop-color="#c4aa8a"/></radialGradient></defs>
<g clip-path="url(#cp1)">
<rect x="135.8" y="208.2" width="106.2" height="44.1" fill="#dcdbdd" />
<path d="M143.50,247.50 C141.70,245.42 141.52,242.08 141.20,239.00 C140.88,235.92 140.97,232.08 141.60,229.00 C142.23,225.92 143.52,222.80 145.00,220.50 C146.48,218.20 148.37,216.52 150.50,215.20 C152.63,213.88 154.85,213.17 157.80,212.60 C160.75,212.03 164.38,211.30 168.20,211.80 C172.02,212.30 175.85,213.73 180.70,215.60 C185.55,217.47 191.08,220.87 197.30,223.00 C203.52,225.13 212.55,226.83 218.00,228.40 C223.45,229.97 226.92,231.03 230.00,232.40 C233.08,233.77 234.97,235.13 236.50,236.60 C238.03,238.07 239.20,240.30 239.20,241.20 C239.20,242.10 239.33,242.80 236.50,242.00 C233.67,241.20 227.35,237.50 222.20,236.40 C217.05,235.30 211.13,235.47 205.60,235.40 C200.07,235.33 193.10,236.32 189.00,236.00 C184.90,235.68 183.33,232.17 181.00,233.50 C178.67,234.83 177.67,240.95 175.00,244.00 C172.33,247.05 168.83,250.55 165.00,251.80 C161.17,253.05 155.58,252.22 152.00,251.50 C148.42,250.78 145.30,249.58 143.50,247.50 Z" fill="#e9e6ec" stroke="#d6d0da" stroke-width="0.6" filter="url(#bl05)"/>
<ellipse cx="165.6" cy="235.4" rx="13.9" ry="15.9" fill="url(#yolk1)" filter="url(#bl1)"/>
<g filter="url(#bl1)">
<ellipse cx="146.5" cy="233" rx="5" ry="13.5" fill="#c6b6d2"/>
<ellipse cx="147" cy="231" rx="2.8" ry="9" fill="#ad98c2"/>
</g>
<g fill="#6e4e90" filter="url(#bl05)"><circle cx="148.07" cy="225.3" r="0.75"/><circle cx="148.08" cy="224.09" r="0.75"/><circle cx="144.99" cy="234.51" r="0.75"/><circle cx="153.72" cy="216.07" r="0.75"/><circle cx="145.8" cy="238.94" r="0.75"/><circle cx="146.42" cy="241.98" r="0.75"/><circle cx="152.22" cy="218.22" r="0.75"/><circle cx="144.6" cy="241.17" r="0.75"/><circle cx="143.95" cy="232.83" r="0.75"/><circle cx="147.78" cy="224.76" r="0.75"/><circle cx="149.53" cy="222.34" r="0.75"/><circle cx="151.79" cy="218.33" r="0.75"/><circle cx="163.9" cy="215.33" r="0.75"/><circle cx="152.32" cy="217.32" r="0.75"/><circle cx="144.04" cy="230.57" r="0.75"/><circle cx="148.45" cy="225.67" r="0.75"/><circle cx="161.91" cy="213.55" r="0.75"/><circle cx="146.75" cy="233.06" r="0.75"/><circle cx="160.89" cy="213.58" r="0.75"/><circle cx="152.31" cy="219.03" r="0.75"/><circle cx="143.88" cy="239.76" r="0.75"/><circle cx="152.84" cy="216.48" r="0.75"/><circle cx="142.83" cy="238.7" r="0.75"/><circle cx="145.14" cy="234.38" r="0.75"/><circle cx="145.91" cy="233.05" r="0.75"/><circle cx="149.99" cy="219.07" r="0.75"/><circle cx="144.2" cy="234.13" r="0.75"/><circle cx="154.85" cy="217.31" r="0.75"/><circle cx="144.69" cy="233.94" r="0.75"/><circle cx="149.88" cy="220.48" r="0.75"/><circle cx="144.16" cy="233.63" r="0.75"/><circle cx="145.36" cy="227.41" r="0.75"/><circle cx="144.89" cy="237.89" r="0.75"/><circle cx="150.07" cy="220.12" r="0.75"/></g>
<g fill="#5e3e82" filter="url(#bl05)"><circle cx="150" cy="221" r="0.9"/><circle cx="151.5" cy="219.5" r="0.9"/><circle cx="153" cy="222.2" r="0.9"/><circle cx="155" cy="217.5" r="0.9"/><circle cx="157" cy="219" r="0.9"/><circle cx="160.5" cy="215.6" r="0.9"/><circle cx="161" cy="217.5" r="0.9"/><circle cx="149" cy="224" r="0.9"/></g>
<circle cx="144.3" cy="244.1" r="2.0" fill="#5a3f78" filter="url(#bl05)"/>
<path d="M180,227.2 C192,229.5 206,232 221,234.2" fill="none" stroke="#9c86b4" stroke-width="0.7" stroke-dasharray="1.2 1.8" filter="url(#bl05)"/>
</g>
<path d="M190.40,218.40 L195.10,220.70 L191.40,223.80 Z" fill="#111" stroke="#f4f4f4" stroke-width="0.7" stroke-linejoin="round" paint-order="stroke"/>
<path d="M196.80,221.10 L201.50,223.40 L197.80,226.50 Z" fill="#111" stroke="#f4f4f4" stroke-width="0.7" stroke-linejoin="round" paint-order="stroke"/>
<path d="M203.20,223.80 L207.90,226.10 L204.20,229.20 Z" fill="#111" stroke="#f4f4f4" stroke-width="0.7" stroke-linejoin="round" paint-order="stroke"/>
<path d="M209.90,226.10 L214.60,228.40 L210.90,231.50 Z" fill="#111" stroke="#f4f4f4" stroke-width="0.7" stroke-linejoin="round" paint-order="stroke"/>
<text x="236.3" y="249.1" font-size="8.3" text-anchor="end" font-weight="normal" font-style="normal" fill="#1a1a1a" stroke="#1a1a1a" stroke-width="0.15">high</text>
<g clip-path="url(#cp2)">
<rect x="135.8" y="254" width="106.2" height="44.6" fill="#dcdbdd" />
<path d="M142.00,293.00 C140.22,290.67 139.67,286.67 139.30,283.00 C138.93,279.33 139.10,274.25 139.80,271.00 C140.50,267.75 141.53,265.37 143.50,263.50 C145.47,261.63 147.85,260.12 151.60,259.80 C155.35,259.48 161.15,260.30 166.00,261.60 C170.85,262.90 175.48,266.37 180.70,267.60 C185.92,268.83 191.77,269.10 197.30,269.00 C202.83,268.90 209.05,267.50 213.90,267.00 C218.75,266.50 222.88,265.78 226.40,266.00 C229.92,266.22 232.87,267.20 235.00,268.30 C237.13,269.40 238.90,271.65 239.20,272.60 C239.50,273.55 239.63,273.93 236.80,274.00 C233.97,274.07 226.37,272.67 222.20,273.00 C218.03,273.33 215.95,275.13 211.80,276.00 C207.65,276.87 202.60,277.60 197.30,278.20 C192.00,278.80 183.55,277.63 180.00,279.60 C176.45,281.57 178.50,287.02 176.00,290.00 C173.50,292.98 169.33,296.33 165.00,297.50 C160.67,298.67 153.83,297.75 150.00,297.00 C146.17,296.25 143.78,295.33 142.00,293.00 Z" fill="#e9e6ec" stroke="#d6d0da" stroke-width="0.6" filter="url(#bl05)"/>
<ellipse cx="163.5" cy="280" rx="15" ry="16.6" fill="url(#yolk2)" filter="url(#bl1)"/>
<g filter="url(#bl1)" opacity="0.85">
<ellipse cx="145" cy="278" rx="4.2" ry="13" fill="#cbbcd6"/>
</g>
<g fill="#6e4e92" filter="url(#bl05)"><circle cx="146.5" cy="266" r="0.85"/><circle cx="148" cy="267.5" r="0.85"/><circle cx="150" cy="265.5" r="0.85"/><circle cx="155" cy="262" r="0.85"/><circle cx="157" cy="261.5" r="0.85"/><circle cx="143" cy="292.5" r="0.85"/><circle cx="145" cy="293" r="0.85"/><circle cx="146.5" cy="291.8" r="0.85"/><circle cx="144" cy="271" r="0.85"/><circle cx="143.5" cy="275" r="0.85"/><circle cx="144.5" cy="281" r="0.85"/></g>
</g>
<text x="236.6" y="294.8" font-size="8.3" text-anchor="end" font-weight="normal" font-style="normal" fill="#1a1a1a" stroke="#1a1a1a" stroke-width="0.15">low</text>
<defs><linearGradient id="bodyg" x1="0" y1="0" x2="1" y2="0"><stop offset="0" stop-color="#e6dccf"/><stop offset="0.35" stop-color="#ebe4db"/><stop offset="0.8" stop-color="#ebe6e0"/><stop offset="1" stop-color="#e6e5e3"/></linearGradient></defs>
<g clip-path="url(#cp3)">
<rect x="379.9" y="198.8" width="121.9" height="48" fill="#e3e3e2" />
<path d="M384.40,210.80 C385.10,208.75 386.25,206.03 388.10,204.60 C389.95,203.17 393.05,202.30 395.50,202.20 C397.95,202.10 400.63,203.10 402.80,204.00 C404.97,204.90 405.97,206.43 408.50,207.60 C411.03,208.77 414.42,210.03 418.00,211.00 C421.58,211.97 425.35,212.83 430.00,213.40 C434.65,213.97 441.20,214.47 445.90,214.40 C450.60,214.33 453.27,214.02 458.20,213.00 C463.13,211.98 470.57,209.53 475.50,208.30 C480.43,207.07 483.92,206.12 487.80,205.60 C491.68,205.08 497.17,204.63 498.80,205.20 C500.43,205.77 500.27,207.45 497.60,209.00 C494.93,210.55 487.72,212.57 482.80,214.50 C477.88,216.43 472.60,218.35 468.10,220.60 C463.60,222.85 459.90,225.53 455.80,228.00 C451.70,230.47 447.60,233.35 443.50,235.40 C439.40,237.45 435.32,238.83 431.20,240.30 C427.08,241.77 422.92,243.52 418.80,244.20 C414.68,244.88 409.98,245.05 406.50,244.40 C403.02,243.75 399.95,242.22 397.90,240.30 C395.85,238.38 395.02,235.37 394.20,232.90 C393.38,230.43 394.23,227.35 393.00,225.50 C391.77,223.65 388.32,223.23 386.80,221.80 C385.28,220.37 384.30,218.73 383.90,216.90 C383.50,215.07 383.70,212.85 384.40,210.80 Z" fill="url(#bodyg)" stroke="#d8cec2" stroke-width="0.6" filter="url(#bl05)"/>
<ellipse cx="407.2" cy="232.4" rx="13.2" ry="11.8" fill="url(#yolk3)" filter="url(#bl1)"/>
<g filter="url(#bl1)">
<ellipse cx="394.5" cy="212.5" rx="10" ry="10" fill="#c8ad8c"/>
<ellipse cx="392.5" cy="214.5" rx="7" ry="7.5" fill="#a07c56"/>
<ellipse cx="391" cy="215" rx="4.2" ry="4.8" fill="#8a6842"/>
</g>
<g fill="#6a5494" filter="url(#bl05)"><circle cx="393.18" cy="218.41" r="0.75"/><circle cx="398.41" cy="217.93" r="0.75"/><circle cx="396.57" cy="219.69" r="0.75"/><circle cx="388.93" cy="220.54" r="0.75"/><circle cx="388.6" cy="220.1" r="0.75"/><circle cx="394.79" cy="222.46" r="0.75"/><circle cx="389.98" cy="218.84" r="0.75"/><circle cx="398.04" cy="223.19" r="0.75"/><circle cx="397.23" cy="219.88" r="0.75"/><circle cx="401.74" cy="219.24" r="0.75"/><circle cx="392.94" cy="222.4" r="0.75"/><circle cx="390.89" cy="220.99" r="0.75"/><circle cx="398.22" cy="219.73" r="0.75"/><circle cx="396.76" cy="217.88" r="0.75"/><circle cx="398.89" cy="220.07" r="0.75"/><circle cx="393.03" cy="221.01" r="0.75"/></g>
<g fill="#8f7888" filter="url(#bl05)"><circle cx="408.69" cy="228.0" r="0.45"/><circle cx="418.24" cy="235.98" r="0.45"/><circle cx="402.83" cy="233.49" r="0.45"/><circle cx="410.71" cy="239.5" r="0.45"/><circle cx="416.42" cy="227.76" r="0.45"/><circle cx="407.71" cy="237.14" r="0.45"/><circle cx="400.26" cy="231.78" r="0.45"/><circle cx="397.1" cy="235.36" r="0.45"/><circle cx="417.41" cy="233.46" r="0.45"/><circle cx="420.51" cy="228.27" r="0.45"/><circle cx="415.47" cy="233.89" r="0.45"/><circle cx="412.24" cy="231.12" r="0.45"/><circle cx="409.27" cy="235.28" r="0.45"/><circle cx="397.7" cy="236.03" r="0.45"/><circle cx="419.01" cy="227.69" r="0.45"/><circle cx="406.8" cy="235.37" r="0.45"/><circle cx="396.63" cy="231.23" r="0.45"/><circle cx="399.62" cy="226.95" r="0.45"/><circle cx="406.95" cy="239.43" r="0.45"/><circle cx="398.26" cy="230.98" r="0.45"/><circle cx="411.38" cy="239.67" r="0.45"/><circle cx="418.94" cy="239.28" r="0.45"/></g>
<g fill="#a89ab0" filter="url(#bl05)"><circle cx="431.71" cy="220.98" r="0.4"/><circle cx="436.53" cy="226.61" r="0.4"/><circle cx="425.57" cy="218.78" r="0.4"/><circle cx="429.0" cy="221.82" r="0.4"/><circle cx="450.35" cy="219.15" r="0.4"/><circle cx="437.16" cy="222.8" r="0.4"/><circle cx="472.19" cy="224.29" r="0.4"/><circle cx="445.93" cy="223.41" r="0.4"/><circle cx="455.57" cy="216.65" r="0.4"/><circle cx="468.97" cy="225.36" r="0.4"/><circle cx="467.47" cy="225.57" r="0.4"/><circle cx="438.54" cy="220.79" r="0.4"/></g>
</g>
<path d="M453.20,213.60 L457.80,211.30 L457.60,216.80 Z" fill="#111" stroke="#f4f4f2" stroke-width="0.7" stroke-linejoin="round" paint-order="stroke"/>
<path d="M459.70,211.80 L464.30,209.50 L464.10,215.00 Z" fill="#111" stroke="#f4f4f2" stroke-width="0.7" stroke-linejoin="round" paint-order="stroke"/>
<path d="M465.80,209.00 L470.40,206.70 L470.20,212.20 Z" fill="#111" stroke="#f4f4f2" stroke-width="0.7" stroke-linejoin="round" paint-order="stroke"/>
<path d="M471.80,206.20 L476.40,203.90 L476.20,209.40 Z" fill="#111" stroke="#f4f4f2" stroke-width="0.7" stroke-linejoin="round" paint-order="stroke"/>
<text x="497.6" y="244.4" font-size="8.3" text-anchor="end" font-weight="normal" font-style="normal" fill="#1a1a1a" stroke="#1a1a1a" stroke-width="0.15">high</text>
<g clip-path="url(#cp4)">
<rect x="379.9" y="250" width="121.9" height="47.8" fill="#e3e3e2" />
<path d="M384.40,261.20 C385.02,259.15 386.25,256.62 388.10,255.10 C389.95,253.58 392.83,252.18 395.50,252.10 C398.17,252.02 401.60,253.45 404.10,254.60 C406.60,255.75 407.85,257.57 410.50,259.00 C413.15,260.43 416.42,262.17 420.00,263.20 C423.58,264.23 427.68,264.90 432.00,265.20 C436.32,265.50 440.70,265.45 445.90,265.00 C451.10,264.55 457.45,263.25 463.20,262.50 C468.95,261.75 474.47,260.72 480.40,260.50 C486.33,260.28 495.73,260.47 498.80,261.20 C501.87,261.93 501.47,263.87 498.80,264.90 C496.13,265.93 487.92,266.17 482.80,267.40 C477.68,268.63 473.02,270.45 468.10,272.30 C463.18,274.15 458.23,276.45 453.30,278.50 C448.37,280.55 443.02,282.55 438.50,284.60 C433.98,286.65 430.30,289.12 426.20,290.80 C422.10,292.48 417.58,294.27 413.90,294.70 C410.22,295.13 406.97,294.47 404.10,293.40 C401.23,292.33 398.35,290.58 396.70,288.30 C395.05,286.02 395.43,282.37 394.20,279.70 C392.97,277.03 390.93,274.35 389.30,272.30 C387.67,270.25 385.22,269.25 384.40,267.40 C383.58,265.55 383.78,263.25 384.40,261.20 Z" fill="url(#bodyg)" stroke="#d8cec2" stroke-width="0.6" filter="url(#bl05)"/>
<ellipse cx="408.4" cy="282.8" rx="14" ry="11.8" fill="url(#yolk4)" filter="url(#bl1)"/>
<g filter="url(#bl1)">
<ellipse cx="394.5" cy="262.5" rx="10" ry="10.6" fill="#caae8a"/>
<ellipse cx="392.5" cy="264" rx="7" ry="7.5" fill="#a4805a"/>
<ellipse cx="391" cy="264.5" rx="4.2" ry="4.8" fill="#8e6c46"/>
</g>
<g fill="#5a4690" filter="url(#bl05)"><circle cx="391.85" cy="272.34" r="0.85"/><circle cx="393.21" cy="267.62" r="0.85"/><circle cx="394.92" cy="266.53" r="0.85"/><circle cx="391.82" cy="269.64" r="0.85"/><circle cx="398.48" cy="267.49" r="0.85"/><circle cx="393.78" cy="269.47" r="0.85"/><circle cx="395.23" cy="267.23" r="0.85"/><circle cx="396.56" cy="270.84" r="0.85"/><circle cx="394.95" cy="268.65" r="0.85"/><circle cx="401.28" cy="267.61" r="0.85"/><circle cx="397.37" cy="267.47" r="0.85"/><circle cx="397.56" cy="266.27" r="0.85"/><circle cx="397.37" cy="275.79" r="0.85"/><circle cx="401.72" cy="272.96" r="0.85"/><circle cx="393.89" cy="269.67" r="0.85"/><circle cx="392.67" cy="273.72" r="0.85"/><circle cx="397.42" cy="273.79" r="0.85"/><circle cx="394.79" cy="268.23" r="0.85"/><circle cx="401.58" cy="274.06" r="0.85"/><circle cx="401.14" cy="273.4" r="0.85"/><circle cx="393.45" cy="271.18" r="0.85"/><circle cx="395.12" cy="266.29" r="0.85"/><circle cx="393.87" cy="272.93" r="0.85"/><circle cx="402.93" cy="270.47" r="0.85"/></g>
<g fill="#a89ab0" filter="url(#bl05)"><circle cx="476.4" cy="270.38" r="0.4"/><circle cx="417.64" cy="268.72" r="0.4"/><circle cx="415.74" cy="268.45" r="0.4"/><circle cx="449.93" cy="276.8" r="0.4"/><circle cx="467.23" cy="271.75" r="0.4"/><circle cx="452.24" cy="275.6" r="0.4"/><circle cx="406.78" cy="273.93" r="0.4"/><circle cx="472.78" cy="275.39" r="0.4"/><circle cx="460.01" cy="271.74" r="0.4"/><circle cx="414.28" cy="275.47" r="0.4"/><circle cx="426.6" cy="275.61" r="0.4"/><circle cx="477.73" cy="270.75" r="0.4"/><circle cx="432.11" cy="277.36" r="0.4"/><circle cx="457.98" cy="268.04" r="0.4"/></g>
</g>
<text x="496.2" y="294.6" font-size="8.3" text-anchor="end" font-weight="normal" font-style="normal" fill="#1a1a1a" stroke="#1a1a1a" stroke-width="0.15">low</text>
<rect x="0.5" y="0.5" width="519" height="545" fill="none" stroke="#000" stroke-width="1"/>
</svg>
</body></html>
